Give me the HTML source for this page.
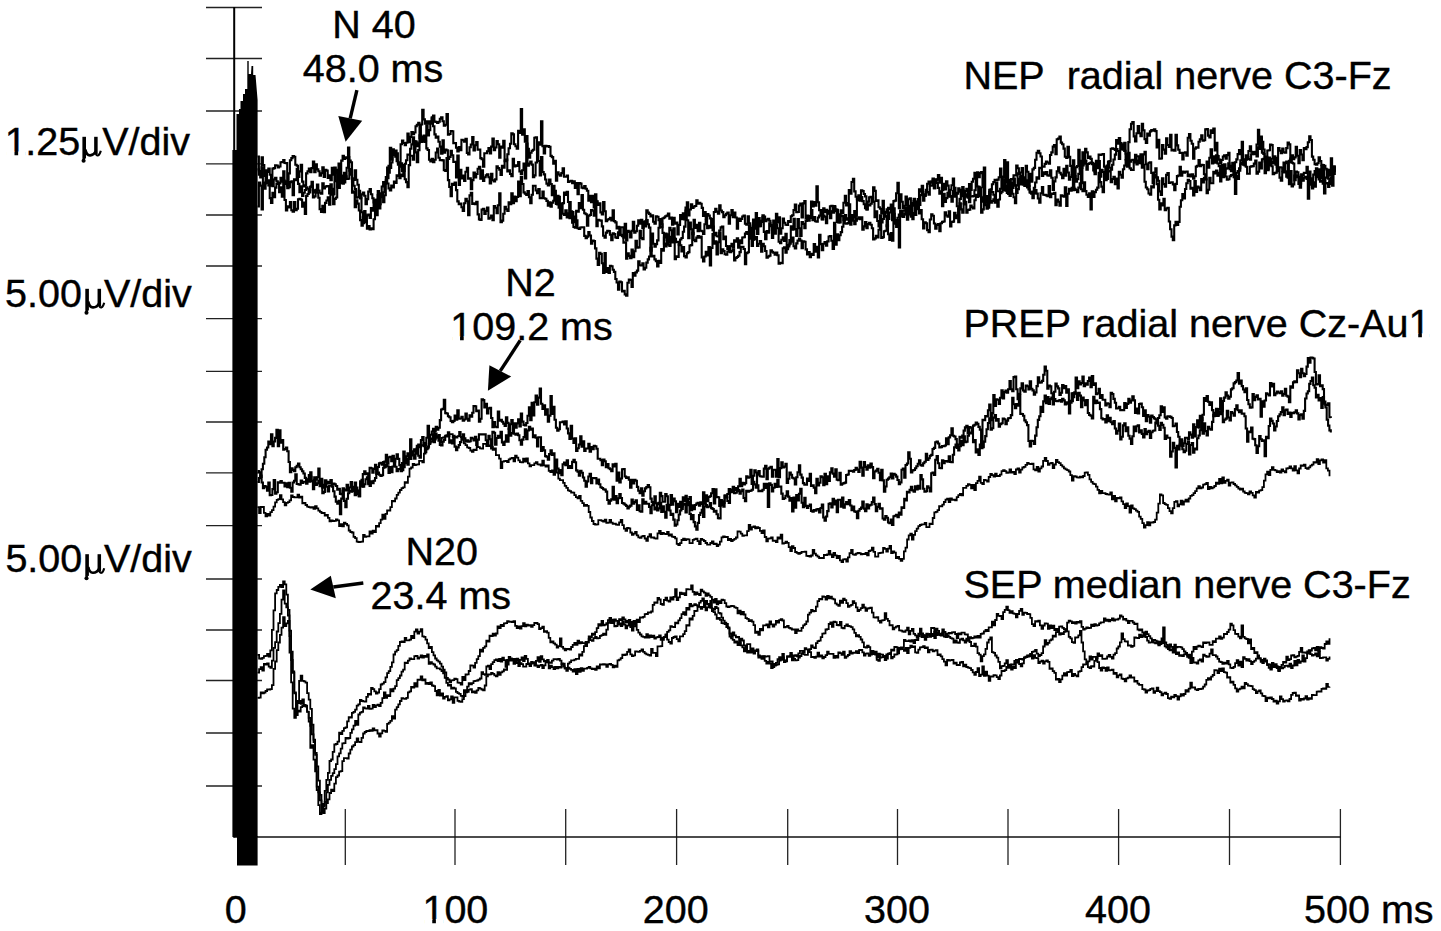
<!DOCTYPE html>
<html><head><meta charset="utf-8"><style>
html,body{margin:0;padding:0;background:#fff;overflow:hidden;}
body{width:1441px;height:931px;font-family:"Liberation Sans", sans-serif;}
svg{display:block;}
</style></head><body>
<svg width="1441" height="931" viewBox="0 0 1441 931">
<rect width="1441" height="931" fill="#fff"/>
<g stroke="#222" stroke-width="1.3" fill="none">
<line x1="206" y1="7.5" x2="262" y2="7.5"/>
<line x1="206" y1="58.5" x2="262" y2="58.5"/>
<line x1="206" y1="111.0" x2="262" y2="111.0"/>
<line x1="206" y1="163.8" x2="262" y2="163.8"/>
<line x1="206" y1="215.0" x2="262" y2="215.0"/>
<line x1="206" y1="266.0" x2="262" y2="266.0"/>
<line x1="206" y1="318.7" x2="262" y2="318.7"/>
<line x1="206" y1="371.3" x2="262" y2="371.3"/>
<line x1="206" y1="422.0" x2="262" y2="422.0"/>
<line x1="206" y1="472.8" x2="262" y2="472.8"/>
<line x1="206" y1="525.7" x2="262" y2="525.7"/>
<line x1="206" y1="579.0" x2="262" y2="579.0"/>
<line x1="206" y1="630.0" x2="262" y2="630.0"/>
<line x1="206" y1="680.5" x2="262" y2="680.5"/>
<line x1="206" y1="733.0" x2="262" y2="733.0"/>
<line x1="206" y1="786.0" x2="262" y2="786.0"/>
<line x1="345.3" y1="809" x2="345.3" y2="865"/>
<line x1="455.0" y1="809" x2="455.0" y2="865"/>
<line x1="565.7" y1="809" x2="565.7" y2="865"/>
<line x1="676.6" y1="809" x2="676.6" y2="865"/>
<line x1="787.7" y1="809" x2="787.7" y2="865"/>
<line x1="897.5" y1="809" x2="897.5" y2="865"/>
<line x1="1008.0" y1="809" x2="1008.0" y2="865"/>
<line x1="1118.6" y1="809" x2="1118.6" y2="865"/>
<line x1="1229.5" y1="809" x2="1229.5" y2="865"/>
<line x1="1340.4" y1="809" x2="1340.4" y2="865"/>
</g>
<line x1="234.2" y1="7" x2="234.2" y2="837.5" stroke="#000" stroke-width="2"/>
<line x1="233.5" y1="837" x2="1340.8" y2="837" stroke="#111" stroke-width="1.6"/>
<g fill="none" stroke="#000" stroke-width="1.6" stroke-linejoin="miter">
<path d="M257.5 169.4H258.9V171.1H260.2V173.8H261.6V157.4H262.9V165.0H264.3V176.0H265.6V170.4H267.0V171.9H268.3V168.6H269.7V174.7H271.0V177.9H272.4V168.6H273.7V168.1H275.1V165.3H276.4V165.5H277.8V167.4H279.1V166.5H280.5V162.2H281.8V162.1H283.2V160.0H284.5V163.0H285.9V163.1H287.2V185.6H288.6V173.4H289.9V160.3H291.3V158.1H292.6V156.0H294.0V156.8H295.3V164.7H296.7V165.8H298.0V176.9H299.4V171.4H300.7V164.8H302.1V181.6H303.4V186.5H304.8V185.4H306.1V173.4H307.5V171.2H308.8V168.6H310.2V172.2H311.5V168.1H312.9V161.6H314.2V172.3H315.6V164.4H316.9V169.4H318.3V171.3H319.6V175.6H321.0V173.3H322.3V167.3H323.7V177.0H325.0V169.7H326.4V170.6H327.7V178.0H329.1V175.2H330.4V180.3H331.8V167.8H333.1V174.6H334.5V172.6H335.8V169.8H337.2V181.4H338.5V163.5H339.9V179.9H341.2V160.6H342.6V155.8H343.9V159.0H345.3V157.4H346.6V158.0H348.0V157.1H349.3V160.6H350.7V162.2H352.0V178.4H353.4V180.0H354.7V170.4H356.1V179.7H357.4V184.7H358.8V197.0H360.1V197.4H361.5V194.4H362.8V192.5H364.2V195.8H365.5V204.1H366.9V199.1H368.2V191.6H369.6V189.0H370.9V194.2H372.3V198.3H373.6V202.5H375.0V201.5H376.3V199.7H377.7V191.1H379.0V204.5H380.4V194.6H381.7V186.5H383.1V182.1H384.4V183.0H385.8V177.1H387.1V167.5H388.5V172.7H389.8V147.8H391.2V159.6H392.5V149.2H393.9V152.7H395.2V156.8H396.6V153.2H397.9V162.9H399.3V162.4H400.6V144.2H402.0V140.6H403.3V143.0H404.7V145.1H406.0V142.8H407.4V133.6H408.7V142.1H410.1V136.9H411.4V132.1H412.8V134.3H414.1V132.5H415.5V126.2H416.8V124.8H418.2V122.7H419.5V138.2H420.9V124.5H422.2V109.7H423.6V119.4H424.9V123.6H426.3V121.2H427.6V123.7H429.0V121.2H430.3V123.4H431.7V118.4H433.0V115.5H434.4V121.6H435.7V122.0H437.1V123.0H438.4V121.7H439.8V118.8H441.1V117.3H442.5V121.3H443.8V125.8H445.2V124.7H446.5V114.0H447.9V134.8H449.2V134.0H450.6V131.0H451.9V131.2H453.3V143.2H454.6V143.0H456.0V147.8H457.3V151.5H458.7V147.0H460.0V150.1H461.4V139.9H462.7V140.3H464.1V141.6H465.4V138.9H466.8V152.9H468.1V154.5H469.5V147.2H470.8V144.5H472.2V137.0H473.5V150.4H474.9V145.2H476.2V142.1H477.6V149.6H478.9V149.6H480.3V158.1H481.6V159.3H483.0V166.7H484.3V153.3H485.7V153.3H487.0V151.3H488.4V148.1H489.7V153.4H491.1V146.6H492.4V138.6H493.8V150.2H495.1V147.5H496.5V141.0H497.8V144.2H499.2V157.8H500.5V146.5H501.9V147.6H503.2V140.8H504.6V161.1H505.9V160.1H507.3V154.2H508.6V148.3H510.0V143.7H511.3V133.4H512.7V134.4H514.0V144.2H515.4V146.3H516.7V148.8H518.1V130.9H519.4V132.9H520.8V109.1H522.1V134.6H523.5V129.4H524.8V141.7H526.2V136.0H527.5V148.7H528.9V157.7H530.2V152.8H531.6V150.8H532.9V149.8H534.3V137.8H535.6V137.2H537.0V157.9H538.3V142.2H539.7V144.8H541.0V121.4H542.4V146.1H543.7V153.4H545.1V145.7H546.4V146.5H547.8V146.1H549.1V146.9H550.5V155.9H551.8V157.1H553.2V163.6H554.5V160.7H555.9V180.7H557.2V172.2H558.6V174.5H559.9V175.8H561.3V173.1H562.6V168.2H564.0V176.8H565.3V176.8H566.7V175.6H568.0V182.0H569.4V181.3H570.7V180.7H572.1V183.2H573.4V181.2H574.8V188.0H576.1V183.1H577.5V194.2H578.8V183.1H580.2V183.6H581.5V187.6H582.9V188.1H584.2V186.0H585.6V188.7H586.9V190.8H588.3V200.6H589.6V195.8H591.0V202.1H592.3V195.9H593.7V207.5H595.0V200.9H596.4V201.2H597.7V205.0H599.1V203.2H600.4V212.4H601.8V214.4H603.1V202.1H604.5V211.2H605.8V221.3H607.2V219.8H608.5V219.0H609.9V217.8H611.2V220.4H612.6V210.2H613.9V221.1H615.3V222.4H616.6V228.5H618.0V226.7H619.3V235.3H620.7V227.3H622.0V227.2H623.4V237.6H624.7V223.7H626.1V240.5H627.4V230.8H628.8V231.9H630.1V237.5H631.5V230.7H632.8V221.8H634.2V232.7H635.5V231.2H636.9V225.8H638.2V220.3H639.6V223.6H640.9V219.7H642.3V228.0H643.6V221.6H645.0V226.5H646.3V210.2H647.7V212.6H649.0V213.9H650.4V216.5H651.7V215.4H653.1V221.7H654.4V223.6H655.8V216.2H657.1V216.7H658.5V220.2H659.8V226.8H661.2V227.2H662.5V218.2H663.9V217.5H665.2V216.3H666.6V215.6H667.9V213.5H669.3V218.8H670.6V217.6H672.0V224.6H673.3V217.7H674.7V223.8H676.0V222.5H677.4V234.4H678.7V224.9H680.1V215.1H681.4V219.2H682.8V213.4H684.1V219.4H685.5V210.5H686.8V202.4H688.2V215.4H689.5V209.5H690.9V204.4H692.2V208.0H693.6V206.5H694.9V206.0H696.3V200.2H697.6V203.7H699.0V202.7H700.3V203.8H701.7V207.9H703.0V215.9H704.4V212.1H705.7V218.4H707.1V214.0H708.4V215.6H709.8V218.4H711.1V219.0H712.5V230.2H713.8V212.0H715.2V208.9H716.5V211.6H717.9V213.8H719.2V205.2H720.6V210.5H721.9V212.1H723.3V217.1H724.6V215.3H726.0V213.8H727.3V212.5H728.7V223.7H730.0V215.3H731.4V210.0H732.7V217.3H734.1V212.6H735.4V217.5H736.8V228.8H738.1V218.5H739.5V221.0H740.8V218.9H742.2V216.5H743.5V215.5H744.9V223.7H746.2V224.8H747.6V216.4H748.9V223.4H750.3V227.9H751.6V236.1H753.0V219.5H754.3V227.7H755.7V213.0H757.0V234.0H758.4V218.0H759.7V226.1H761.1V222.0H762.4V217.3H763.8V216.6H765.1V221.3H766.5V219.6H767.8V218.8H769.2V220.8H770.5V226.2H771.9V237.9H773.2V220.5H774.6V233.7H775.9V213.7H777.3V222.4H778.6V217.4H780.0V233.7H781.3V228.3H782.7V218.5H784.0V222.8H785.4V224.8H786.7V225.0H788.1V221.0H789.4V222.0H790.8V216.3H792.1V215.2H793.5V210.0H794.8V204.5H796.2V212.1H797.5V212.0H798.9V205.5H800.2V203.5H801.6V217.4H802.9V203.4H804.3V201.0H805.6V218.6H807.0V216.6H808.3V220.7H809.7V216.6H811.0V201.6H812.4V206.5H813.7V202.0H815.1V205.7H816.4V186.3H817.8V202.3H819.1V210.3H820.5V210.0H821.8V219.1H823.2V208.2H824.5V212.2H825.9V209.9H827.2V212.4H828.6V213.7H829.9V218.1H831.3V211.3H832.6V211.0H834.0V206.0H835.3V209.4H836.7V209.9H838.0V222.4H839.4V214.3H840.7V210.2H842.1V213.0H843.4V202.7H844.8V195.7H846.1V205.5H847.5V203.0H848.8V190.1H850.2V193.7H851.5V182.0H852.9V178.7H854.2V191.4H855.6V196.7H856.9V199.2H858.3V200.3H859.6V198.4H861.0V197.1H862.3V201.1H863.7V204.3H865.0V208.2H866.4V209.6H867.7V204.7H869.1V205.5H870.4V203.7H871.8V197.6H873.1V201.5H874.5V217.3H875.8V211.3H877.2V221.0H878.5V226.5H879.9V221.0H881.2V222.4H882.6V219.0H883.9V211.9H885.3V216.0H886.6V226.1H888.0V207.8H889.3V209.0H890.7V204.5H892.0V210.5H893.4V201.1H894.7V200.6H896.1V193.2H897.4V182.7H898.8V208.3H900.1V194.2H901.5V201.8H902.8V207.9H904.2V205.7H905.5V196.5H906.9V205.7H908.2V199.3H909.6V198.3H910.9V215.2H912.3V203.1H913.6V201.0H915.0V214.9H916.3V209.3H917.7V201.6H919.0V189.2H920.4V191.5H921.7V191.7H923.1V200.6H924.4V196.0H925.8V192.1H927.1V183.7H928.5V181.6H929.8V185.6H931.2V185.7H932.5V178.6H933.9V188.3H935.2V180.2H936.6V179.6H937.9V175.1H939.3V182.8H940.6V177.9H942.0V190.2H943.3V183.8H944.7V189.5H946.0V181.3H947.4V185.6H948.7V196.8H950.1V189.8H951.4V185.3H952.8V178.6H954.1V196.8H955.5V192.8H956.8V193.8H958.2V188.2H959.5V191.6H960.9V196.3H962.2V187.0H963.6V192.4H964.9V194.3H966.3V196.6H967.6V196.8H969.0V202.1H970.3V189.9H971.7V181.7H973.0V178.8H974.4V172.9H975.7V179.3H977.1V172.2H978.4V177.2H979.8V173.1H981.1V172.1H982.5V187.2H983.8V199.9H985.2V202.6H986.5V196.0H987.9V204.4H989.2V191.8H990.6V191.5H991.9V192.0H993.3V194.7H994.6V197.9H996.0V182.5H997.3V191.3H998.7V191.2H1000.0V188.7H1001.4V177.1H1002.7V177.6H1004.1V160.0H1005.4V182.6H1006.8V162.2H1008.1V193.9H1009.5V188.6H1010.8V182.5H1012.2V188.0H1013.5V178.6H1014.9V185.6H1016.2V193.0H1017.6V189.1H1018.9V178.7H1020.3V177.1H1021.6V177.9H1023.0V183.7H1024.3V177.2H1025.7V165.8H1027.0V171.7H1028.4V185.6H1029.7V173.9H1031.1V181.8H1032.4V169.4H1033.8V167.9H1035.1V159.7H1036.5V152.7H1037.8V150.9H1039.2V153.3H1040.5V156.5H1041.9V166.5H1043.2V166.7H1044.6V163.9H1045.9V161.5H1047.3V162.5H1048.6V163.7H1050.0V155.0H1051.3V152.4H1052.7V146.6H1054.0V145.1H1055.4V154.2H1056.7V139.3H1058.1V138.6H1059.4V136.6H1060.8V142.6H1062.1V144.2H1063.5V148.6H1064.8V156.7H1066.2V158.0H1067.5V146.7H1068.9V156.9H1070.2V165.9H1071.6V176.2H1072.9V160.3H1074.3V178.8H1075.6V167.3H1077.0V166.0H1078.3V149.8H1079.7V168.8H1081.0V168.0H1082.4V152.4H1083.7V163.6H1085.1V148.7H1086.4V152.4H1087.8V157.9H1089.1V156.6H1090.5V158.9H1091.8V162.8H1093.2V163.7H1094.5V171.8H1095.9V167.7H1097.2V161.6H1098.6V154.6H1099.9V155.0H1101.3V154.5H1102.6V154.1H1104.0V166.6H1105.3V176.4H1106.7V165.6H1108.0V162.5H1109.4V161.1H1110.7V148.8H1112.1V148.2H1113.4V149.0H1114.8V150.0H1116.1V140.1H1117.5V143.6H1118.8V138.0H1120.2V143.1H1121.5V147.2H1122.9V149.4H1124.2V142.7H1125.6V153.7H1126.9V166.7H1128.3V142.1H1129.6V129.3H1131.0V123.7H1132.3V122.0H1133.7V136.4H1135.0V141.4H1136.4V133.3H1137.7V126.1H1139.1V133.2H1140.4V136.1H1141.8V123.9H1143.1V130.2H1144.5V139.1H1145.8V142.9H1147.2V133.6H1148.5V135.8H1149.9V131.4H1151.2V130.1H1152.6V130.7H1153.9V129.2H1155.3V131.1H1156.6V147.5H1158.0V139.7H1159.3V158.7H1160.7V158.5H1162.0V145.0H1163.4V149.6H1164.7V153.8H1166.1V138.3H1167.4V145.0H1168.8V146.9H1170.1V134.7H1171.5V150.5H1172.8V149.7H1174.2V150.6H1175.5V134.8H1176.9V145.4H1178.2V149.8H1179.6V153.0H1180.9V152.7H1182.3V159.4H1183.6V152.7H1185.0V152.2H1186.3V155.7H1187.7V137.8H1189.0V134.0H1190.4V140.8H1191.7V143.8H1193.1V158.7H1194.4V148.6H1195.8V147.4H1197.1V147.7H1198.5V141.7H1199.8V139.3H1201.2V135.3H1202.5V140.8H1203.9V140.2H1205.2V129.4H1206.6V129.0H1207.9V135.6H1209.3V137.5H1210.6V130.2H1212.0V132.9H1213.3V128.5H1214.7V150.4H1216.0V142.8H1217.4V156.0H1218.7V159.6H1220.1V163.0H1221.4V160.0H1222.8V156.5H1224.1V155.3H1225.5V158.8H1226.8V155.1H1228.2V152.7H1229.5V169.3H1230.9V171.1H1232.2V166.7H1233.6V169.2H1234.9V162.3H1236.3V159.4H1237.6V154.1H1239.0V150.1H1240.3V154.3H1241.7V141.7H1243.0V163.1H1244.4V165.5H1245.7V159.6H1247.1V157.1H1248.4V159.0H1249.8V159.7H1251.1V154.2H1252.5V153.1H1253.8V152.1H1255.2V151.8H1256.5V144.5H1257.9V129.7H1259.2V149.0H1260.6V137.7H1261.9V152.6H1263.3V154.0H1264.6V158.8H1266.0V156.7H1267.3V150.5H1268.7V150.2H1270.0V144.5H1271.4V145.1H1272.7V158.7H1274.1V159.4H1275.4V157.9H1276.8V169.9H1278.1V148.1H1279.5V150.8H1280.8V153.1H1282.2V148.5H1283.5V152.2H1284.9V152.7H1286.2V148.1H1287.6V142.6H1288.9V144.4H1290.3V162.1H1291.6V155.4H1293.0V159.3H1294.3V157.4H1295.7V146.8H1297.0V155.7H1298.4V163.2H1299.7V150.1H1301.1V154.5H1302.4V160.3H1303.8V148.0H1305.1V149.1H1306.5V147.1H1307.8V142.2H1309.2V136.2H1310.5V140.0H1311.9V156.6H1313.2V159.8H1314.6V164.1H1315.9V164.7H1317.3V163.2H1318.6V157.2H1320.0V161.1H1321.3V164.7H1322.7V179.7H1324.0V165.7H1325.4V168.8H1326.7V169.9H1328.1V178.7H1329.4V183.9H1330.8V178.0H1332.1V185.8H1333.5V168.0H1334.8V175.1" stroke-width="2.1"/>
<path d="M257.5 156.5H258.9V174.8H260.2V177.5H261.6V167.3H262.9V182.9H264.3V183.7H265.6V181.9H267.0V183.0H268.3V185.5H269.7V185.7H271.0V179.4H272.4V186.1H273.7V179.5H275.1V177.7H276.4V181.4H277.8V182.9H279.1V183.4H280.5V177.9H281.8V181.7H283.2V171.4H284.5V181.3H285.9V184.0H287.2V188.2H288.6V187.3H289.9V182.1H291.3V181.4H292.6V195.3H294.0V179.2H295.3V180.3H296.7V168.9H298.0V183.9H299.4V192.2H300.7V186.4H302.1V195.9H303.4V192.8H304.8V190.0H306.1V187.3H307.5V188.7H308.8V192.4H310.2V186.8H311.5V181.9H312.9V192.5H314.2V190.3H315.6V190.4H316.9V184.6H318.3V190.6H319.6V192.7H321.0V193.7H322.3V183.3H323.7V188.5H325.0V186.7H326.4V186.0H327.7V186.1H329.1V193.4H330.4V184.3H331.8V188.8H333.1V204.1H334.5V198.9H335.8V197.5H337.2V182.7H338.5V187.9H339.9V181.7H341.2V182.3H342.6V177.2H343.9V182.5H345.3V177.3H346.6V167.7H348.0V147.6H349.3V170.6H350.7V174.8H352.0V181.8H353.4V185.8H354.7V189.0H356.1V197.6H357.4V197.3H358.8V190.9H360.1V198.5H361.5V212.2H362.8V223.2H364.2V211.0H365.5V222.2H366.9V215.4H368.2V214.5H369.6V218.0H370.9V208.1H372.3V210.8H373.6V200.4H375.0V205.2H376.3V204.5H377.7V195.0H379.0V204.0H380.4V195.3H381.7V197.3H383.1V192.4H384.4V183.7H385.8V182.4H387.1V178.2H388.5V165.8H389.8V167.9H391.2V162.5H392.5V154.9H393.9V151.1H395.2V150.6H396.6V161.1H397.9V164.8H399.3V178.2H400.6V174.5H402.0V176.1H403.3V170.9H404.7V163.7H406.0V160.2H407.4V154.6H408.7V154.7H410.1V148.7H411.4V144.4H412.8V137.2H414.1V141.3H415.5V141.6H416.8V146.1H418.2V143.2H419.5V135.3H420.9V141.9H422.2V137.4H423.6V135.5H424.9V140.2H426.3V125.4H427.6V135.5H429.0V130.1H430.3V123.4H431.7V117.3H433.0V126.2H434.4V134.4H435.7V137.6H437.1V136.5H438.4V141.8H439.8V146.6H441.1V153.6H442.5V140.2H443.8V152.7H445.2V149.6H446.5V150.4H447.9V159.0H449.2V156.9H450.6V150.7H451.9V155.3H453.3V161.9H454.6V161.9H456.0V177.5H457.3V155.6H458.7V184.9H460.0V169.7H461.4V178.5H462.7V175.5H464.1V181.0H465.4V171.7H466.8V167.7H468.1V178.8H469.5V178.3H470.8V189.3H472.2V180.1H473.5V172.6H474.9V177.4H476.2V174.0H477.6V168.7H478.9V166.9H480.3V178.6H481.6V170.4H483.0V181.0H484.3V177.3H485.7V175.4H487.0V174.2H488.4V177.2H489.7V183.4H491.1V173.9H492.4V180.3H493.8V181.5H495.1V179.4H496.5V166.4H497.8V168.0H499.2V169.7H500.5V174.9H501.9V165.7H503.2V167.8H504.6V160.5H505.9V159.6H507.3V171.4H508.6V170.4H510.0V174.0H511.3V176.3H512.7V158.9H514.0V166.5H515.4V165.4H516.7V165.9H518.1V162.0H519.4V171.4H520.8V174.0H522.1V170.3H523.5V163.6H524.8V178.4H526.2V143.5H527.5V165.6H528.9V163.5H530.2V161.5H531.6V164.6H532.9V177.2H534.3V175.4H535.6V162.5H537.0V160.1H538.3V161.0H539.7V175.5H541.0V157.0H542.4V172.0H543.7V174.4H545.1V179.5H546.4V183.6H547.8V185.4H549.1V179.5H550.5V184.0H551.8V195.2H553.2V185.8H554.5V199.5H555.9V204.0H557.2V204.5H558.6V196.7H559.9V206.9H561.3V203.8H562.6V203.1H564.0V192.5H565.3V195.0H566.7V191.7H568.0V202.0H569.4V218.3H570.7V212.6H572.1V222.8H573.4V227.0H574.8V227.8H576.1V210.8H577.5V211.8H578.8V203.0H580.2V208.3H581.5V195.0H582.9V209.8H584.2V213.3H585.6V214.2H586.9V225.6H588.3V215.7H589.6V214.9H591.0V210.0H592.3V210.6H593.7V215.7H595.0V194.3H596.4V226.2H597.7V219.8H599.1V220.2H600.4V220.6H601.8V226.4H603.1V235.7H604.5V237.7H605.8V232.6H607.2V230.7H608.5V231.1H609.9V234.7H611.2V240.1H612.6V233.3H613.9V234.1H615.3V237.4H616.6V238.0H618.0V232.3H619.3V234.9H620.7V234.9H622.0V236.2H623.4V242.7H624.7V242.4H626.1V258.8H627.4V253.3H628.8V255.9H630.1V258.3H631.5V249.6H632.8V257.3H634.2V251.2H635.5V240.8H636.9V247.7H638.2V247.4H639.6V230.8H640.9V238.0H642.3V239.1H643.6V224.1H645.0V221.6H646.3V220.0H647.7V224.2H649.0V227.6H650.4V250.6H651.7V233.5H653.1V243.8H654.4V246.6H655.8V244.1H657.1V240.4H658.5V227.8H659.8V219.0H661.2V224.3H662.5V232.9H663.9V243.6H665.2V246.5H666.6V234.2H667.9V244.7H669.3V245.9H670.6V236.9H672.0V238.6H673.3V228.4H674.7V238.9H676.0V242.1H677.4V241.9H678.7V244.6H680.1V239.5H681.4V238.0H682.8V231.8H684.1V226.6H685.5V207.6H686.8V220.2H688.2V238.3H689.5V222.6H690.9V229.3H692.2V234.1H693.6V219.7H694.9V227.9H696.3V224.8H697.6V231.3H699.0V222.9H700.3V230.8H701.7V231.3H703.0V234.0H704.4V224.2H705.7V220.0H707.1V228.3H708.4V225.7H709.8V227.6H711.1V219.7H712.5V226.6H713.8V234.9H715.2V232.7H716.5V236.2H717.9V236.4H719.2V230.6H720.6V227.4H721.9V226.5H723.3V239.2H724.6V236.6H726.0V246.0H727.3V249.2H728.7V247.1H730.0V246.3H731.4V243.8H732.7V247.8H734.1V240.4H735.4V241.7H736.8V238.3H738.1V247.8H739.5V240.2H740.8V243.2H742.2V237.5H743.5V237.2H744.9V233.6H746.2V232.0H747.6V233.9H748.9V225.6H750.3V237.3H751.6V230.3H753.0V239.6H754.3V228.6H755.7V220.3H757.0V220.2H758.4V226.3H759.7V223.6H761.1V220.9H762.4V215.4H763.8V232.0H765.1V239.3H766.5V231.0H767.8V232.8H769.2V223.3H770.5V225.1H771.9V229.7H773.2V232.8H774.6V223.8H775.9V224.4H777.3V228.2H778.6V241.7H780.0V243.3H781.3V239.7H782.7V237.4H784.0V240.9H785.4V233.8H786.7V248.0H788.1V245.0H789.4V240.1H790.8V226.2H792.1V229.7H793.5V218.7H794.8V229.1H796.2V235.9H797.5V219.0H798.9V228.3H800.2V236.0H801.6V222.0H802.9V223.9H804.3V228.2H805.6V221.0H807.0V215.5H808.3V216.0H809.7V217.9H811.0V210.1H812.4V220.3H813.7V217.0H815.1V221.3H816.4V221.8H817.8V217.5H819.1V215.6H820.5V210.3H821.8V219.4H823.2V215.5H824.5V216.7H825.9V223.1H827.2V210.7H828.6V213.1H829.9V206.2H831.3V205.7H832.6V212.6H834.0V207.2H835.3V211.1H836.7V222.0H838.0V218.3H839.4V222.5H840.7V215.6H842.1V216.3H843.4V220.1H844.8V215.1H846.1V219.8H847.5V218.2H848.8V204.2H850.2V220.4H851.5V215.1H852.9V220.8H854.2V224.1H855.6V215.6H856.9V199.1H858.3V195.3H859.6V200.6H861.0V190.2H862.3V191.1H863.7V194.0H865.0V196.4H866.4V209.0H867.7V201.6H869.1V197.4H870.4V196.7H871.8V201.8H873.1V187.3H874.5V190.9H875.8V201.0H877.2V200.3H878.5V207.2H879.9V208.7H881.2V213.5H882.6V200.7H883.9V216.7H885.3V212.6H886.6V209.4H888.0V218.9H889.3V212.5H890.7V208.9H892.0V220.3H893.4V213.8H894.7V223.7H896.1V220.5H897.4V217.7H898.8V214.5H900.1V214.0H901.5V216.4H902.8V217.0H904.2V214.1H905.5V207.6H906.9V214.2H908.2V205.7H909.6V212.6H910.9V216.0H912.3V219.1H913.6V213.1H915.0V204.7H916.3V203.6H917.7V199.0H919.0V205.0H920.4V195.1H921.7V185.7H923.1V194.3H924.4V194.9H925.8V189.8H927.1V192.1H928.5V194.8H929.8V182.7H931.2V181.5H932.5V180.6H933.9V188.2H935.2V179.2H936.6V182.9H937.9V187.9H939.3V193.8H940.6V191.2H942.0V206.1H943.3V193.8H944.7V201.9H946.0V198.1H947.4V192.9H948.7V196.0H950.1V196.1H951.4V201.7H952.8V191.0H954.1V187.8H955.5V194.2H956.8V206.3H958.2V222.1H959.5V198.9H960.9V189.9H962.2V189.8H963.6V203.5H964.9V191.1H966.3V188.7H967.6V197.8H969.0V184.0H970.3V196.5H971.7V196.4H973.0V196.0H974.4V190.2H975.7V180.7H977.1V186.5H978.4V194.9H979.8V187.7H981.1V201.7H982.5V197.3H983.8V198.3H985.2V204.3H986.5V208.6H987.9V199.7H989.2V194.3H990.6V189.4H991.9V184.2H993.3V182.1H994.6V179.9H996.0V180.3H997.3V179.6H998.7V177.3H1000.0V168.6H1001.4V176.6H1002.7V190.0H1004.1V186.1H1005.4V190.7H1006.8V185.3H1008.1V180.1H1009.5V191.0H1010.8V179.0H1012.2V179.5H1013.5V175.4H1014.9V175.5H1016.2V165.5H1017.6V168.2H1018.9V174.3H1020.3V172.5H1021.6V168.1H1023.0V179.8H1024.3V179.0H1025.7V184.1H1027.0V186.8H1028.4V186.3H1029.7V192.6H1031.1V193.7H1032.4V198.1H1033.8V187.7H1035.1V182.5H1036.5V177.2H1037.8V178.6H1039.2V167.7H1040.5V168.1H1041.9V176.0H1043.2V172.2H1044.6V174.3H1045.9V172.1H1047.3V175.4H1048.6V175.6H1050.0V170.3H1051.3V177.8H1052.7V190.0H1054.0V181.4H1055.4V177.4H1056.7V171.3H1058.1V167.4H1059.4V172.8H1060.8V174.5H1062.1V178.2H1063.5V168.8H1064.8V175.6H1066.2V165.7H1067.5V172.5H1068.9V179.8H1070.2V177.0H1071.6V175.2H1072.9V190.2H1074.3V176.0H1075.6V181.8H1077.0V179.1H1078.3V173.9H1079.7V160.9H1081.0V183.1H1082.4V165.4H1083.7V163.0H1085.1V160.6H1086.4V169.6H1087.8V164.0H1089.1V163.2H1090.5V162.5H1091.8V164.1H1093.2V170.4H1094.5V174.1H1095.9V160.9H1097.2V168.3H1098.6V161.0H1099.9V182.1H1101.3V186.6H1102.6V192.1H1104.0V172.4H1105.3V179.0H1106.7V169.6H1108.0V161.6H1109.4V167.7H1110.7V169.7H1112.1V164.8H1113.4V159.5H1114.8V154.6H1116.1V149.0H1117.5V151.0H1118.8V158.9H1120.2V144.7H1121.5V149.5H1122.9V144.2H1124.2V150.9H1125.6V159.4H1126.9V158.2H1128.3V152.8H1129.6V161.8H1131.0V160.3H1132.3V159.7H1133.7V162.1H1135.0V159.6H1136.4V156.3H1137.7V156.2H1139.1V159.8H1140.4V154.2H1141.8V163.8H1143.1V154.4H1144.5V151.7H1145.8V164.3H1147.2V169.1H1148.5V162.7H1149.9V162.2H1151.2V172.9H1152.6V183.3H1153.9V172.5H1155.3V168.4H1156.6V177.3H1158.0V180.8H1159.3V191.4H1160.7V195.0H1162.0V178.3H1163.4V184.1H1164.7V186.8H1166.1V174.9H1167.4V173.1H1168.8V183.0H1170.1V182.5H1171.5V182.2H1172.8V184.4H1174.2V190.1H1175.5V183.9H1176.9V176.1H1178.2V175.5H1179.6V166.9H1180.9V175.6H1182.3V171.6H1183.6V172.6H1185.0V171.8H1186.3V171.6H1187.7V176.2H1189.0V174.5H1190.4V176.4H1191.7V174.4H1193.1V178.6H1194.4V176.2H1195.8V166.6H1197.1V165.7H1198.5V160.1H1199.8V166.2H1201.2V164.8H1202.5V165.0H1203.9V174.3H1205.2V179.5H1206.6V161.5H1207.9V167.7H1209.3V157.8H1210.6V149.3H1212.0V163.4H1213.3V156.4H1214.7V162.6H1216.0V155.2H1217.4V163.5H1218.7V166.1H1220.1V174.4H1221.4V172.8H1222.8V173.9H1224.1V172.9H1225.5V168.8H1226.8V168.2H1228.2V163.3H1229.5V165.8H1230.9V167.4H1232.2V162.9H1233.6V177.2H1234.9V194.0H1236.3V175.9H1237.6V179.0H1239.0V168.2H1240.3V160.2H1241.7V153.5H1243.0V161.3H1244.4V159.4H1245.7V155.3H1247.1V158.6H1248.4V151.0H1249.8V146.3H1251.1V151.8H1252.5V153.5H1253.8V154.1H1255.2V152.8H1256.5V156.4H1257.9V147.3H1259.2V147.2H1260.6V136.6H1261.9V141.8H1263.3V149.5H1264.6V161.4H1266.0V156.7H1267.3V169.0H1268.7V165.1H1270.0V158.9H1271.4V166.2H1272.7V174.1H1274.1V173.1H1275.4V172.6H1276.8V171.3H1278.1V168.9H1279.5V167.4H1280.8V167.5H1282.2V171.2H1283.5V162.6H1284.9V171.4H1286.2V176.8H1287.6V177.6H1288.9V160.7H1290.3V158.5H1291.6V162.8H1293.0V163.5H1294.3V180.1H1295.7V171.6H1297.0V172.4H1298.4V183.9H1299.7V183.6H1301.1V174.4H1302.4V180.6H1303.8V177.7H1305.1V176.8H1306.5V178.9H1307.8V198.8H1309.2V171.5H1310.5V178.3H1311.9V186.8H1313.2V182.4H1314.6V186.8H1315.9V168.2H1317.3V176.3H1318.6V169.2H1320.0V178.1H1321.3V166.0H1322.7V165.1H1324.0V193.4H1325.4V177.6H1326.7V170.5H1328.1V169.7H1329.4V175.8H1330.8V158.2H1332.1V167.0H1333.5V171.2H1334.8V166.1" stroke-width="2.1"/>
<path d="M257.5 206.5H258.9V182.6H260.2V185.6H261.6V209.5H262.9V183.7H264.3V188.6H265.6V174.0H267.0V182.3H268.3V180.4H269.7V198.1H271.0V202.9H272.4V192.8H273.7V197.3H275.1V187.6H276.4V184.0H277.8V182.8H279.1V192.3H280.5V187.3H281.8V196.7H283.2V180.4H284.5V200.0H285.9V210.5H287.2V206.2H288.6V207.5H289.9V202.1H291.3V210.3H292.6V211.6H294.0V202.0H295.3V210.3H296.7V208.7H298.0V199.3H299.4V198.9H300.7V199.6H302.1V206.7H303.4V202.6H304.8V213.9H306.1V195.9H307.5V194.0H308.8V190.2H310.2V186.8H311.5V185.8H312.9V197.5H314.2V196.4H315.6V189.7H316.9V192.6H318.3V197.7H319.6V209.1H321.0V212.0H322.3V205.8H323.7V212.3H325.0V202.9H326.4V200.5H327.7V197.4H329.1V204.7H330.4V194.7H331.8V190.4H333.1V194.4H334.5V167.5H335.8V181.3H337.2V187.3H338.5V181.5H339.9V183.3H341.2V175.5H342.6V183.8H343.9V172.9H345.3V176.4H346.6V179.0H348.0V178.7H349.3V169.1H350.7V170.7H352.0V192.6H353.4V191.4H354.7V207.2H356.1V200.2H357.4V203.6H358.8V210.5H360.1V220.1H361.5V225.6H362.8V217.4H364.2V214.4H365.5V220.8H366.9V228.8H368.2V226.0H369.6V229.4H370.9V228.3H372.3V229.1H373.6V219.2H375.0V199.7H376.3V215.2H377.7V204.4H379.0V208.4H380.4V193.3H381.7V196.2H383.1V202.1H384.4V195.2H385.8V180.4H387.1V183.5H388.5V188.4H389.8V190.4H391.2V185.6H392.5V187.4H393.9V181.6H395.2V182.9H396.6V175.3H397.9V176.0H399.3V166.8H400.6V163.4H402.0V171.2H403.3V165.1H404.7V179.3H406.0V182.1H407.4V187.1H408.7V165.1H410.1V155.8H411.4V155.7H412.8V159.8H414.1V141.3H415.5V152.4H416.8V162.3H418.2V150.1H419.5V141.9H420.9V136.5H422.2V141.8H423.6V137.9H424.9V141.9H426.3V148.4H427.6V150.0H429.0V159.8H430.3V161.5H431.7V158.7H433.0V162.1H434.4V159.7H435.7V152.5H437.1V148.6H438.4V157.8H439.8V160.3H441.1V160.0H442.5V160.4H443.8V170.1H445.2V170.9H446.5V158.0H447.9V180.1H449.2V187.0H450.6V196.3H451.9V183.8H453.3V185.0H454.6V182.5H456.0V190.1H457.3V201.4H458.7V204.3H460.0V203.6H461.4V207.3H462.7V210.9H464.1V203.3H465.4V198.9H466.8V201.2H468.1V215.2H469.5V195.4H470.8V192.8H472.2V203.9H473.5V203.3H474.9V204.2H476.2V201.8H477.6V214.4H478.9V219.4H480.3V220.0H481.6V209.6H483.0V208.7H484.3V214.0H485.7V210.9H487.0V207.6H488.4V218.6H489.7V217.8H491.1V215.5H492.4V220.2H493.8V206.0H495.1V207.8H496.5V213.3H497.8V205.3H499.2V193.4H500.5V222.3H501.9V220.6H503.2V213.7H504.6V206.9H505.9V209.3H507.3V210.9H508.6V202.2H510.0V204.1H511.3V193.3H512.7V203.2H514.0V196.5H515.4V201.2H516.7V197.0H518.1V181.5H519.4V196.1H520.8V176.7H522.1V184.0H523.5V192.4H524.8V193.7H526.2V194.9H527.5V191.1H528.9V197.3H530.2V203.3H531.6V194.7H532.9V185.8H534.3V185.8H535.6V190.5H537.0V193.1H538.3V189.0H539.7V198.1H541.0V198.3H542.4V191.6H543.7V198.2H545.1V198.8H546.4V200.9H547.8V205.7H549.1V202.4H550.5V206.6H551.8V202.7H553.2V200.7H554.5V190.8H555.9V203.1H557.2V195.8H558.6V207.6H559.9V218.5H561.3V203.9H562.6V213.8H564.0V214.9H565.3V210.2H566.7V217.5H568.0V213.3H569.4V202.0H570.7V211.4H572.1V212.0H573.4V222.1H574.8V216.6H576.1V220.2H577.5V228.3H578.8V228.9H580.2V227.5H581.5V227.2H582.9V227.2H584.2V235.9H585.6V238.2H586.9V236.6H588.3V232.0H589.6V235.5H591.0V243.6H592.3V240.5H593.7V241.1H595.0V248.4H596.4V258.6H597.7V265.0H599.1V252.8H600.4V253.9H601.8V263.2H603.1V273.0H604.5V253.0H605.8V271.9H607.2V268.1H608.5V273.0H609.9V265.8H611.2V266.3H612.6V269.7H613.9V271.9H615.3V279.0H616.6V282.5H618.0V289.8H619.3V281.6H620.7V282.3H622.0V291.5H623.4V290.9H624.7V294.4H626.1V295.8H627.4V282.7H628.8V279.5H630.1V279.9H631.5V287.0H632.8V273.0H634.2V275.8H635.5V272.4H636.9V270.6H638.2V261.4H639.6V265.2H640.9V265.4H642.3V263.3H643.6V269.4H645.0V267.7H646.3V262.6H647.7V259.4H649.0V256.5H650.4V247.9H651.7V256.5H653.1V255.9H654.4V259.4H655.8V261.1H657.1V266.5H658.5V260.8H659.8V262.9H661.2V249.1H662.5V250.6H663.9V237.5H665.2V233.6H666.6V240.2H667.9V242.7H669.3V227.7H670.6V230.3H672.0V242.5H673.3V238.4H674.7V259.3H676.0V256.4H677.4V257.0H678.7V244.7H680.1V245.3H681.4V251.5H682.8V247.1H684.1V256.1H685.5V257.4H686.8V253.3H688.2V252.1H689.5V245.5H690.9V245.1H692.2V232.9H693.6V239.9H694.9V241.2H696.3V237.6H697.6V236.0H699.0V237.8H700.3V236.6H701.7V257.4H703.0V261.5H704.4V256.5H705.7V251.8H707.1V255.5H708.4V247.1H709.8V265.5H711.1V247.9H712.5V234.1H713.8V243.8H715.2V241.4H716.5V254.4H717.9V242.2H719.2V233.0H720.6V253.2H721.9V249.3H723.3V251.1H724.6V254.3H726.0V254.7H727.3V251.8H728.7V246.4H730.0V252.3H731.4V250.9H732.7V249.6H734.1V260.4H735.4V257.9H736.8V257.0H738.1V255.8H739.5V252.1H740.8V246.9H742.2V246.8H743.5V249.0H744.9V264.2H746.2V253.1H747.6V252.3H748.9V235.9H750.3V238.6H751.6V245.9H753.0V239.5H754.3V239.0H755.7V237.1H757.0V245.9H758.4V243.8H759.7V241.1H761.1V251.7H762.4V243.8H763.8V246.3H765.1V251.0H766.5V257.8H767.8V256.5H769.2V255.8H770.5V250.2H771.9V251.8H773.2V252.8H774.6V254.8H775.9V252.6H777.3V255.3H778.6V263.6H780.0V262.9H781.3V263.1H782.7V248.3H784.0V247.2H785.4V252.7H786.7V249.1H788.1V246.4H789.4V243.6H790.8V241.7H792.1V237.5H793.5V246.2H794.8V248.5H796.2V243.4H797.5V240.6H798.9V238.5H800.2V240.6H801.6V248.2H802.9V241.4H804.3V241.7H805.6V249.4H807.0V254.4H808.3V252.0H809.7V257.1H811.0V253.8H812.4V255.0H813.7V244.0H815.1V251.6H816.4V246.8H817.8V257.4H819.1V234.9H820.5V244.1H821.8V250.2H823.2V243.7H824.5V242.0H825.9V245.8H827.2V241.4H828.6V236.5H829.9V236.1H831.3V240.7H832.6V248.9H834.0V222.8H835.3V244.6H836.7V234.3H838.0V240.2H839.4V235.3H840.7V232.1H842.1V226.7H843.4V216.0H844.8V223.5H846.1V223.6H847.5V223.1H848.8V218.4H850.2V224.7H851.5V219.1H852.9V217.5H854.2V211.1H855.6V220.7H856.9V218.6H858.3V217.3H859.6V219.2H861.0V217.3H862.3V229.8H863.7V226.4H865.0V222.1H866.4V228.1H867.7V224.0H869.1V222.8H870.4V224.7H871.8V228.3H873.1V239.5H874.5V238.4H875.8V235.9H877.2V237.5H878.5V229.8H879.9V215.2H881.2V237.9H882.6V237.1H883.9V231.2H885.3V230.8H886.6V225.4H888.0V234.3H889.3V239.9H890.7V233.0H892.0V240.6H893.4V208.2H894.7V220.1H896.1V227.0H897.4V220.1H898.8V247.5H900.1V210.5H901.5V214.9H902.8V210.5H904.2V210.4H905.5V214.5H906.9V219.8H908.2V214.5H909.6V208.1H910.9V216.6H912.3V205.7H913.6V198.9H915.0V208.3H916.3V201.8H917.7V201.0H919.0V213.5H920.4V210.1H921.7V219.3H923.1V228.5H924.4V222.3H925.8V223.2H927.1V230.1H928.5V232.2H929.8V219.5H931.2V214.3H932.5V215.7H933.9V223.5H935.2V228.6H936.6V224.9H937.9V224.0H939.3V231.1H940.6V223.2H942.0V221.9H943.3V221.5H944.7V212.2H946.0V215.5H947.4V216.6H948.7V211.3H950.1V226.5H951.4V221.9H952.8V221.6H954.1V212.9H955.5V218.2H956.8V215.4H958.2V209.0H959.5V203.2H960.9V209.4H962.2V212.8H963.6V204.4H964.9V201.7H966.3V212.6H967.6V209.9H969.0V209.6H970.3V205.5H971.7V207.2H973.0V208.4H974.4V200.3H975.7V194.8H977.1V196.9H978.4V186.8H979.8V195.9H981.1V212.8H982.5V209.4H983.8V167.6H985.2V205.1H986.5V205.3H987.9V207.6H989.2V189.7H990.6V202.8H991.9V201.0H993.3V199.4H994.6V202.8H996.0V200.1H997.3V206.6H998.7V199.5H1000.0V193.1H1001.4V191.8H1002.7V186.1H1004.1V179.9H1005.4V190.2H1006.8V193.0H1008.1V187.9H1009.5V195.9H1010.8V183.7H1012.2V193.8H1013.5V197.3H1014.9V203.1H1016.2V185.4H1017.6V173.3H1018.9V173.7H1020.3V184.5H1021.6V175.8H1023.0V184.7H1024.3V185.9H1025.7V180.3H1027.0V187.4H1028.4V189.5H1029.7V191.8H1031.1V191.9H1032.4V191.6H1033.8V193.4H1035.1V190.1H1036.5V193.6H1037.8V198.5H1039.2V202.6H1040.5V193.3H1041.9V187.0H1043.2V194.8H1044.6V194.9H1045.9V195.4H1047.3V196.2H1048.6V186.0H1050.0V197.3H1051.3V193.5H1052.7V194.0H1054.0V192.9H1055.4V205.3H1056.7V199.6H1058.1V201.8H1059.4V205.6H1060.8V195.4H1062.1V195.9H1063.5V196.6H1064.8V187.2H1066.2V205.9H1067.5V193.7H1068.9V188.9H1070.2V190.8H1071.6V187.9H1072.9V187.6H1074.3V188.7H1075.6V190.0H1077.0V192.3H1078.3V187.6H1079.7V183.2H1081.0V189.2H1082.4V191.3H1083.7V182.4H1085.1V191.1H1086.4V194.8H1087.8V197.0H1089.1V193.4H1090.5V209.4H1091.8V191.2H1093.2V196.9H1094.5V192.1H1095.9V189.8H1097.2V187.6H1098.6V172.9H1099.9V176.8H1101.3V169.7H1102.6V171.9H1104.0V175.7H1105.3V180.1H1106.7V179.0H1108.0V171.4H1109.4V170.8H1110.7V182.3H1112.1V179.0H1113.4V176.8H1114.8V184.1H1116.1V178.5H1117.5V188.4H1118.8V171.8H1120.2V174.8H1121.5V177.6H1122.9V169.2H1124.2V165.5H1125.6V160.0H1126.9V166.0H1128.3V163.0H1129.6V168.4H1131.0V169.9H1132.3V169.9H1133.7V162.5H1135.0V154.9H1136.4V164.4H1137.7V160.6H1139.1V163.2H1140.4V157.7H1141.8V167.7H1143.1V164.9H1144.5V181.7H1145.8V187.5H1147.2V189.3H1148.5V193.5H1149.9V194.7H1151.2V186.3H1152.6V187.5H1153.9V175.0H1155.3V177.4H1156.6V184.1H1158.0V199.7H1159.3V209.5H1160.7V203.2H1162.0V205.5H1163.4V198.8H1164.7V210.3H1166.1V208.5H1167.4V207.9H1168.8V221.5H1170.1V229.3H1171.5V236.6H1172.8V240.2H1174.2V225.4H1175.5V221.7H1176.9V224.9H1178.2V221.9H1179.6V206.7H1180.9V200.2H1182.3V194.1H1183.6V198.4H1185.0V189.0H1186.3V183.2H1187.7V179.7H1189.0V181.0H1190.4V188.8H1191.7V187.7H1193.1V195.4H1194.4V181.0H1195.8V191.9H1197.1V186.5H1198.5V187.6H1199.8V190.2H1201.2V179.1H1202.5V182.5H1203.9V177.7H1205.2V179.2H1206.6V193.1H1207.9V189.7H1209.3V177.9H1210.6V183.3H1212.0V183.3H1213.3V171.8H1214.7V173.5H1216.0V170.6H1217.4V175.7H1218.7V172.7H1220.1V181.5H1221.4V165.0H1222.8V177.3H1224.1V164.3H1225.5V176.5H1226.8V179.6H1228.2V179.2H1229.5V176.2H1230.9V175.1H1232.2V174.8H1233.6V169.3H1234.9V177.9H1236.3V172.7H1237.6V171.0H1239.0V170.7H1240.3V164.2H1241.7V162.5H1243.0V164.7H1244.4V162.0H1245.7V166.7H1247.1V173.8H1248.4V173.7H1249.8V166.8H1251.1V166.4H1252.5V166.1H1253.8V163.6H1255.2V160.5H1256.5V173.7H1257.9V171.7H1259.2V162.6H1260.6V168.5H1261.9V159.2H1263.3V158.9H1264.6V173.2H1266.0V161.0H1267.3V170.1H1268.7V157.6H1270.0V160.8H1271.4V161.9H1272.7V163.4H1274.1V156.2H1275.4V164.7H1276.8V167.3H1278.1V170.8H1279.5V177.6H1280.8V180.6H1282.2V172.3H1283.5V172.5H1284.9V163.3H1286.2V161.5H1287.6V175.6H1288.9V184.1H1290.3V171.1H1291.6V186.4H1293.0V184.4H1294.3V175.6H1295.7V177.3H1297.0V175.3H1298.4V176.8H1299.7V187.6H1301.1V180.2H1302.4V175.0H1303.8V172.7H1305.1V173.0H1306.5V166.9H1307.8V177.0H1309.2V184.6H1310.5V179.8H1311.9V188.4H1313.2V174.6H1314.6V171.0H1315.9V177.3H1317.3V172.6H1318.6V179.4H1320.0V181.7H1321.3V180.9H1322.7V183.7H1324.0V183.1H1325.4V183.5H1326.7V183.1H1328.1V187.0H1329.4V181.6H1330.8V177.9H1332.1V166.4H1333.5V169.6H1334.8V165.3" stroke-width="2.1"/>
<path d="M257.5 471.0H258.9V472.3H260.2V476.9H261.6V469.3H262.9V463.7H264.3V457.3H265.6V449.8H267.0V447.5H268.3V441.5H269.7V444.1H271.0V434.4H272.4V446.3H273.7V441.5H275.1V437.9H276.4V429.8H277.8V446.3H279.1V430.4H280.5V442.6H281.8V440.0H283.2V449.6H284.5V449.0H285.9V447.6H287.2V451.3H288.6V462.0H289.9V472.1H291.3V468.2H292.6V469.9H294.0V471.3H295.3V467.3H296.7V465.7H298.0V463.6H299.4V467.3H300.7V469.2H302.1V471.2H303.4V473.5H304.8V477.9H306.1V483.7H307.5V479.8H308.8V475.0H310.2V472.4H311.5V481.2H312.9V481.5H314.2V479.7H315.6V479.4H316.9V477.2H318.3V468.6H319.6V481.6H321.0V480.0H322.3V493.1H323.7V491.9H325.0V480.2H326.4V483.4H327.7V481.8H329.1V483.3H330.4V480.1H331.8V484.6H333.1V483.5H334.5V484.4H335.8V486.0H337.2V489.6H338.5V488.9H339.9V493.9H341.2V494.1H342.6V488.2H343.9V489.5H345.3V490.4H346.6V484.7H348.0V490.7H349.3V487.5H350.7V482.0H352.0V491.1H353.4V487.5H354.7V482.6H356.1V490.2H357.4V490.5H358.8V496.3H360.1V481.4H361.5V486.5H362.8V474.1H364.2V471.2H365.5V474.3H366.9V473.2H368.2V483.1H369.6V486.0H370.9V481.3H372.3V483.3H373.6V480.8H375.0V478.0H376.3V471.0H377.7V467.0H379.0V463.4H380.4V462.7H381.7V464.6H383.1V462.0H384.4V467.2H385.8V465.1H387.1V466.2H388.5V473.0H389.8V467.0H391.2V472.2H392.5V466.5H393.9V460.4H395.2V466.8H396.6V471.2H397.9V469.0H399.3V469.2H400.6V468.5H402.0V470.3H403.3V451.5H404.7V462.9H406.0V456.3H407.4V453.3H408.7V456.5H410.1V458.9H411.4V452.1H412.8V454.9H414.1V458.6H415.5V449.8H416.8V448.0H418.2V444.6H419.5V446.9H420.9V440.1H422.2V437.1H423.6V446.1H424.9V452.3H426.3V449.3H427.6V446.6H429.0V443.3H430.3V441.7H431.7V441.3H433.0V434.3H434.4V431.2H435.7V426.8H437.1V429.7H438.4V427.8H439.8V420.1H441.1V409.5H442.5V408.9H443.8V399.7H445.2V413.1H446.5V413.5H447.9V416.2H449.2V417.3H450.6V421.0H451.9V422.3H453.3V420.9H454.6V415.6H456.0V419.6H457.3V410.3H458.7V418.6H460.0V418.5H461.4V416.7H462.7V420.6H464.1V419.5H465.4V413.5H466.8V418.7H468.1V420.6H469.5V415.2H470.8V416.7H472.2V412.8H473.5V406.0H474.9V406.2H476.2V411.1H477.6V410.6H478.9V421.8H480.3V418.7H481.6V399.4H483.0V400.1H484.3V407.4H485.7V403.8H487.0V413.4H488.4V408.4H489.7V407.9H491.1V418.0H492.4V427.1H493.8V422.1H495.1V426.8H496.5V427.1H497.8V411.6H499.2V420.7H500.5V419.7H501.9V421.7H503.2V423.6H504.6V426.0H505.9V417.2H507.3V422.9H508.6V428.6H510.0V424.3H511.3V420.1H512.7V432.3H514.0V423.3H515.4V427.7H516.7V423.4H518.1V419.4H519.4V426.5H520.8V413.6H522.1V421.6H523.5V424.9H524.8V425.4H526.2V423.0H527.5V415.8H528.9V407.2H530.2V420.2H531.6V402.8H532.9V415.4H534.3V402.3H535.6V395.5H537.0V404.8H538.3V397.6H539.7V388.5H541.0V403.8H542.4V408.9H543.7V405.3H545.1V414.8H546.4V409.3H547.8V421.6H549.1V415.6H550.5V396.0H551.8V414.0H553.2V406.9H554.5V419.7H555.9V427.8H557.2V430.8H558.6V429.3H559.9V422.3H561.3V422.3H562.6V421.6H564.0V424.5H565.3V421.2H566.7V428.5H568.0V433.4H569.4V438.9H570.7V425.9H572.1V438.5H573.4V442.9H574.8V438.2H576.1V451.0H577.5V448.3H578.8V444.5H580.2V436.2H581.5V446.7H582.9V441.4H584.2V450.9H585.6V448.5H586.9V448.5H588.3V443.9H589.6V451.8H591.0V447.1H592.3V449.2H593.7V445.7H595.0V446.2H596.4V448.8H597.7V458.7H599.1V458.8H600.4V460.1H601.8V465.2H603.1V459.6H604.5V461.3H605.8V467.1H607.2V464.1H608.5V468.2H609.9V469.3H611.2V471.1H612.6V464.2H613.9V466.5H615.3V463.7H616.6V480.6H618.0V472.6H619.3V482.5H620.7V478.5H622.0V469.3H623.4V469.0H624.7V476.5H626.1V477.9H627.4V477.2H628.8V479.8H630.1V487.8H631.5V479.7H632.8V483.5H634.2V479.8H635.5V480.8H636.9V486.9H638.2V490.7H639.6V493.3H640.9V488.3H642.3V495.8H643.6V491.3H645.0V488.4H646.3V487.1H647.7V485.0H649.0V487.2H650.4V498.6H651.7V502.1H653.1V503.6H654.4V509.4H655.8V507.6H657.1V504.3H658.5V502.8H659.8V492.8H661.2V496.1H662.5V501.8H663.9V501.7H665.2V494.0H666.6V496.2H667.9V509.7H669.3V504.9H670.6V495.0H672.0V504.6H673.3V498.5H674.7V501.3H676.0V512.1H677.4V503.7H678.7V506.9H680.1V501.9H681.4V509.0H682.8V497.3H684.1V501.1H685.5V495.9H686.8V505.3H688.2V499.1H689.5V497.0H690.9V510.2H692.2V505.2H693.6V509.2H694.9V505.0H696.3V503.6H697.6V502.9H699.0V505.6H700.3V502.3H701.7V503.9H703.0V516.9H704.4V506.5H705.7V495.4H707.1V501.3H708.4V497.0H709.8V496.2H711.1V493.3H712.5V489.0H713.8V503.5H715.2V489.4H716.5V497.1H717.9V497.3H719.2V505.9H720.6V500.1H721.9V502.8H723.3V503.0H724.6V495.2H726.0V497.5H727.3V501.0H728.7V503.0H730.0V490.0H731.4V489.6H732.7V491.8H734.1V493.3H735.4V492.7H736.8V491.1H738.1V486.2H739.5V478.7H740.8V486.3H742.2V482.9H743.5V484.4H744.9V483.1H746.2V476.4H747.6V477.8H748.9V477.3H750.3V469.9H751.6V484.0H753.0V481.9H754.3V484.4H755.7V487.6H757.0V474.8H758.4V471.1H759.7V476.3H761.1V476.5H762.4V476.6H763.8V468.6H765.1V465.8H766.5V479.3H767.8V468.7H769.2V467.8H770.5V466.9H771.9V476.7H773.2V469.8H774.6V469.8H775.9V476.7H777.3V459.1H778.6V477.1H780.0V468.1H781.3V462.2H782.7V467.5H784.0V466.6H785.4V463.8H786.7V483.0H788.1V478.8H789.4V472.6H790.8V474.8H792.1V477.8H793.5V478.5H794.8V484.4H796.2V477.3H797.5V472.2H798.9V465.3H800.2V474.6H801.6V477.6H802.9V483.1H804.3V484.8H805.6V484.6H807.0V478.6H808.3V481.0H809.7V473.8H811.0V485.9H812.4V485.2H813.7V487.6H815.1V493.2H816.4V478.9H817.8V485.4H819.1V482.8H820.5V476.3H821.8V477.3H823.2V485.1H824.5V473.8H825.9V484.3H827.2V476.4H828.6V480.9H829.9V472.4H831.3V468.3H832.6V473.6H834.0V476.6H835.3V469.2H836.7V479.8H838.0V480.3H839.4V472.8H840.7V484.7H842.1V483.7H843.4V483.1H844.8V482.6H846.1V475.0H847.5V474.5H848.8V470.9H850.2V470.9H851.5V470.7H852.9V471.8H854.2V470.0H855.6V467.8H856.9V469.5H858.3V472.0H859.6V461.7H861.0V467.6H862.3V475.8H863.7V462.1H865.0V466.9H866.4V469.8H867.7V465.4H869.1V467.7H870.4V463.5H871.8V467.1H873.1V478.2H874.5V471.5H875.8V470.6H877.2V468.9H878.5V472.8H879.9V480.1H881.2V469.9H882.6V480.4H883.9V491.7H885.3V486.5H886.6V479.7H888.0V478.6H889.3V477.3H890.7V473.6H892.0V478.4H893.4V473.7H894.7V474.8H896.1V476.6H897.4V480.0H898.8V484.1H900.1V482.4H901.5V469.8H902.8V468.5H904.2V477.7H905.5V465.0H906.9V463.5H908.2V452.4H909.6V458.8H910.9V472.4H912.3V470.4H913.6V470.0H915.0V468.3H916.3V466.3H917.7V463.7H919.0V460.3H920.4V465.1H921.7V465.6H923.1V463.3H924.4V461.7H925.8V453.9H927.1V459.9H928.5V458.2H929.8V455.8H931.2V454.9H932.5V449.0H933.9V447.9H935.2V442.3H936.6V441.6H937.9V443.5H939.3V447.4H940.6V447.1H942.0V446.0H943.3V446.2H944.7V445.5H946.0V438.3H947.4V444.2H948.7V437.4H950.1V435.3H951.4V428.3H952.8V435.7H954.1V436.5H955.5V439.1H956.8V446.1H958.2V444.5H959.5V436.9H960.9V437.8H962.2V435.5H963.6V430.6H964.9V427.4H966.3V425.8H967.6V433.5H969.0V427.1H970.3V427.6H971.7V431.5H973.0V425.6H974.4V424.8H975.7V422.5H977.1V423.9H978.4V426.9H979.8V429.6H981.1V448.3H982.5V419.9H983.8V420.3H985.2V416.0H986.5V416.5H987.9V410.3H989.2V404.6H990.6V420.1H991.9V413.1H993.3V395.1H994.6V405.9H996.0V399.4H997.3V399.8H998.7V403.9H1000.0V397.7H1001.4V390.2H1002.7V398.4H1004.1V392.1H1005.4V390.6H1006.8V392.8H1008.1V389.2H1009.5V381.0H1010.8V389.2H1012.2V391.1H1013.5V377.1H1014.9V376.5H1016.2V389.3H1017.6V399.1H1018.9V393.9H1020.3V388.4H1021.6V383.3H1023.0V390.5H1024.3V391.7H1025.7V385.6H1027.0V386.2H1028.4V389.5H1029.7V381.2H1031.1V388.8H1032.4V390.4H1033.8V394.8H1035.1V392.4H1036.5V386.1H1037.8V377.3H1039.2V382.7H1040.5V382.4H1041.9V380.9H1043.2V374.7H1044.6V366.5H1045.9V370.8H1047.3V388.6H1048.6V385.6H1050.0V386.4H1051.3V393.2H1052.7V397.8H1054.0V391.8H1055.4V383.6H1056.7V386.4H1058.1V388.4H1059.4V394.9H1060.8V392.7H1062.1V385.1H1063.5V388.3H1064.8V386.1H1066.2V392.8H1067.5V389.2H1068.9V402.5H1070.2V402.8H1071.6V393.4H1072.9V397.3H1074.3V393.8H1075.6V377.6H1077.0V388.2H1078.3V381.2H1079.7V384.4H1081.0V383.0H1082.4V376.6H1083.7V386.1H1085.1V383.4H1086.4V384.6H1087.8V381.0H1089.1V377.6H1090.5V387.3H1091.8V376.0H1093.2V385.0H1094.5V383.4H1095.9V394.1H1097.2V393.4H1098.6V388.8H1099.9V397.9H1101.3V395.0H1102.6V399.7H1104.0V399.7H1105.3V405.4H1106.7V403.4H1108.0V403.7H1109.4V407.1H1110.7V392.8H1112.1V394.0H1113.4V398.9H1114.8V402.8H1116.1V408.5H1117.5V408.3H1118.8V406.9H1120.2V410.1H1121.5V410.1H1122.9V410.1H1124.2V403.0H1125.6V408.0H1126.9V403.9H1128.3V398.8H1129.6V402.8H1131.0V400.5H1132.3V396.2H1133.7V400.4H1135.0V413.0H1136.4V408.5H1137.7V413.5H1139.1V404.0H1140.4V403.6H1141.8V407.3H1143.1V416.0H1144.5V410.4H1145.8V421.1H1147.2V415.0H1148.5V416.6H1149.9V422.6H1151.2V415.5H1152.6V417.0H1153.9V418.4H1155.3V419.2H1156.6V423.4H1158.0V418.0H1159.3V415.2H1160.7V406.4H1162.0V412.0H1163.4V407.2H1164.7V417.4H1166.1V418.8H1167.4V416.4H1168.8V416.2H1170.1V416.9H1171.5V418.0H1172.8V426.1H1174.2V425.7H1175.5V423.6H1176.9V432.0H1178.2V436.8H1179.6V445.7H1180.9V441.4H1182.3V446.1H1183.6V443.2H1185.0V437.7H1186.3V437.7H1187.7V439.4H1189.0V432.3H1190.4V434.6H1191.7V437.6H1193.1V424.4H1194.4V436.4H1195.8V427.0H1197.1V420.2H1198.5V427.6H1199.8V415.9H1201.2V419.9H1202.5V414.8H1203.9V398.0H1205.2V401.0H1206.6V396.0H1207.9V401.8H1209.3V404.9H1210.6V402.4H1212.0V410.1H1213.3V416.3H1214.7V415.9H1216.0V408.8H1217.4V416.0H1218.7V409.1H1220.1V398.3H1221.4V411.1H1222.8V401.0H1224.1V397.6H1225.5V392.3H1226.8V395.6H1228.2V398.6H1229.5V396.8H1230.9V389.4H1232.2V388.2H1233.6V383.4H1234.9V382.1H1236.3V380.5H1237.6V373.0H1239.0V383.8H1240.3V380.5H1241.7V386.1H1243.0V389.5H1244.4V392.1H1245.7V388.2H1247.1V400.0H1248.4V404.2H1249.8V407.7H1251.1V407.4H1252.5V394.1H1253.8V400.2H1255.2V396.9H1256.5V395.3H1257.9V399.4H1259.2V398.8H1260.6V416.7H1261.9V401.3H1263.3V406.8H1264.6V400.5H1266.0V393.4H1267.3V394.3H1268.7V395.5H1270.0V383.1H1271.4V386.5H1272.7V383.9H1274.1V395.1H1275.4V393.4H1276.8V391.6H1278.1V392.5H1279.5V393.2H1280.8V391.3H1282.2V395.8H1283.5V393.9H1284.9V388.7H1286.2V395.8H1287.6V396.6H1288.9V402.2H1290.3V386.3H1291.6V387.8H1293.0V382.4H1294.3V381.4H1295.7V382.2H1297.0V370.2H1298.4V373.2H1299.7V377.3H1301.1V368.7H1302.4V373.2H1303.8V376.3H1305.1V374.0H1306.5V366.6H1307.8V358.1H1309.2V362.8H1310.5V357.5H1311.9V357.7H1313.2V358.5H1314.6V372.0H1315.9V384.5H1317.3V384.1H1318.6V375.2H1320.0V386.3H1321.3V385.3H1322.7V389.1H1324.0V401.5H1325.4V405.3H1326.7V405.1H1328.1V403.4H1329.4V417.3H1330.8V418.0" stroke-width="2.1"/>
<path d="M257.5 482.0H258.9V478.1H260.2V475.6H261.6V482.5H262.9V488.1H264.3V486.0H265.6V486.7H267.0V490.7H268.3V482.5H269.7V495.1H271.0V495.0H272.4V489.1H273.7V480.0H275.1V493.7H276.4V492.2H277.8V482.4H279.1V482.7H280.5V481.0H281.8V482.7H283.2V482.8H284.5V486.5H285.9V483.2H287.2V487.2H288.6V482.9H289.9V487.7H291.3V491.6H292.6V482.5H294.0V480.7H295.3V474.2H296.7V484.0H298.0V484.2H299.4V484.8H300.7V480.6H302.1V483.0H303.4V481.8H304.8V481.8H306.1V480.0H307.5V479.3H308.8V481.8H310.2V476.9H311.5V480.7H312.9V489.2H314.2V477.2H315.6V484.9H316.9V483.4H318.3V480.7H319.6V486.1H321.0V478.8H322.3V487.6H323.7V484.7H325.0V483.8H326.4V486.7H327.7V491.4H329.1V485.8H330.4V485.6H331.8V486.8H333.1V491.2H334.5V496.6H335.8V501.7H337.2V503.8H338.5V500.7H339.9V514.2H341.2V498.6H342.6V490.9H343.9V500.9H345.3V507.1H346.6V498.8H348.0V493.2H349.3V490.7H350.7V491.7H352.0V488.5H353.4V486.7H354.7V495.2H356.1V487.5H357.4V494.1H358.8V496.2H360.1V483.6H361.5V479.7H362.8V486.8H364.2V484.3H365.5V479.3H366.9V477.2H368.2V484.1H369.6V467.8H370.9V468.3H372.3V472.7H373.6V468.9H375.0V464.7H376.3V473.9H377.7V472.5H379.0V474.7H380.4V475.9H381.7V475.3H383.1V467.7H384.4V461.6H385.8V454.8H387.1V463.7H388.5V457.3H389.8V456.8H391.2V461.3H392.5V455.9H393.9V461.5H395.2V458.7H396.6V454.3H397.9V458.9H399.3V465.1H400.6V471.1H402.0V463.0H403.3V467.1H404.7V463.1H406.0V458.8H407.4V464.6H408.7V457.5H410.1V439.3H411.4V455.5H412.8V451.2H414.1V449.4H415.5V453.8H416.8V445.8H418.2V455.7H419.5V457.6H420.9V445.3H422.2V445.5H423.6V443.1H424.9V445.2H426.3V437.7H427.6V425.7H429.0V443.3H430.3V434.8H431.7V431.5H433.0V428.9H434.4V439.4H435.7V436.4H437.1V437.0H438.4V435.1H439.8V444.9H441.1V445.4H442.5V441.7H443.8V440.0H445.2V435.8H446.5V435.3H447.9V432.2H449.2V442.8H450.6V440.4H451.9V443.4H453.3V435.8H454.6V446.6H456.0V450.1H457.3V447.4H458.7V445.0H460.0V442.1H461.4V437.1H462.7V434.3H464.1V438.4H465.4V441.4H466.8V440.4H468.1V441.8H469.5V441.3H470.8V437.8H472.2V438.5H473.5V440.5H474.9V436.7H476.2V444.9H477.6V439.6H478.9V434.3H480.3V434.4H481.6V434.4H483.0V434.2H484.3V434.4H485.7V440.3H487.0V445.3H488.4V435.8H489.7V439.2H491.1V448.4H492.4V431.9H493.8V432.8H495.1V444.6H496.5V438.0H497.8V435.9H499.2V437.6H500.5V431.7H501.9V442.4H503.2V445.0H504.6V441.6H505.9V435.3H507.3V441.8H508.6V429.2H510.0V435.7H511.3V433.1H512.7V433.5H514.0V433.8H515.4V434.8H516.7V433.5H518.1V435.2H519.4V440.2H520.8V444.6H522.1V439.6H523.5V437.0H524.8V429.4H526.2V439.1H527.5V430.5H528.9V426.8H530.2V429.6H531.6V428.5H532.9V437.1H534.3V435.3H535.6V437.7H537.0V446.5H538.3V437.2H539.7V437.2H541.0V451.0H542.4V447.0H543.7V450.2H545.1V456.1H546.4V456.8H547.8V459.7H549.1V454.1H550.5V450.2H551.8V454.9H553.2V453.4H554.5V469.7H555.9V459.5H557.2V468.5H558.6V473.1H559.9V470.0H561.3V475.2H562.6V464.2H564.0V462.6H565.3V465.2H566.7V460.3H568.0V467.9H569.4V466.0H570.7V467.9H572.1V461.9H573.4V459.9H574.8V462.3H576.1V470.4H577.5V471.6H578.8V475.7H580.2V470.9H581.5V472.8H582.9V477.5H584.2V480.7H585.6V486.8H586.9V481.5H588.3V476.5H589.6V473.9H591.0V483.3H592.3V478.0H593.7V478.0H595.0V478.1H596.4V483.4H597.7V479.6H599.1V484.3H600.4V487.3H601.8V488.0H603.1V489.3H604.5V489.6H605.8V491.6H607.2V500.0H608.5V503.7H609.9V500.8H611.2V499.4H612.6V486.9H613.9V499.6H615.3V496.0H616.6V503.2H618.0V498.3H619.3V494.0H620.7V498.0H622.0V503.0H623.4V503.6H624.7V504.8H626.1V505.9H627.4V508.5H628.8V506.7H630.1V505.6H631.5V499.5H632.8V503.8H634.2V502.1H635.5V500.4H636.9V510.0H638.2V505.2H639.6V511.3H640.9V511.7H642.3V499.4H643.6V503.6H645.0V501.9H646.3V503.7H647.7V503.7H649.0V506.9H650.4V513.2H651.7V505.3H653.1V503.5H654.4V496.3H655.8V503.3H657.1V510.5H658.5V508.4H659.8V502.9H661.2V511.9H662.5V506.4H663.9V511.7H665.2V517.8H666.6V504.9H667.9V505.8H669.3V510.5H670.6V515.0H672.0V513.9H673.3V519.6H674.7V525.8H676.0V524.5H677.4V520.3H678.7V514.5H680.1V510.5H681.4V506.4H682.8V504.7H684.1V503.9H685.5V512.4H686.8V501.7H688.2V502.1H689.5V513.9H690.9V519.3H692.2V515.1H693.6V522.1H694.9V526.4H696.3V529.7H697.6V522.9H699.0V515.0H700.3V512.7H701.7V509.9H703.0V492.4H704.4V503.6H705.7V505.0H707.1V507.3H708.4V506.5H709.8V503.0H711.1V508.1H712.5V509.0H713.8V511.6H715.2V510.9H716.5V514.3H717.9V518.1H719.2V518.5H720.6V505.2H721.9V501.3H723.3V506.6H724.6V496.1H726.0V497.3H727.3V494.0H728.7V489.0H730.0V490.0H731.4V492.3H732.7V486.9H734.1V490.0H735.4V488.1H736.8V489.9H738.1V490.0H739.5V493.8H740.8V491.2H742.2V489.6H743.5V498.0H744.9V501.2H746.2V490.7H747.6V491.7H748.9V490.9H750.3V490.8H751.6V489.8H753.0V475.8H754.3V470.3H755.7V472.5H757.0V485.2H758.4V491.2H759.7V490.7H761.1V491.3H762.4V489.8H763.8V483.7H765.1V488.0H766.5V483.9H767.8V506.9H769.2V483.4H770.5V484.9H771.9V491.5H773.2V487.8H774.6V483.8H775.9V486.9H777.3V479.8H778.6V486.8H780.0V486.5H781.3V493.6H782.7V498.9H784.0V498.3H785.4V495.7H786.7V491.4H788.1V496.6H789.4V500.6H790.8V498.1H792.1V511.5H793.5V497.6H794.8V507.8H796.2V495.0H797.5V500.5H798.9V493.8H800.2V488.9H801.6V502.8H802.9V507.3H804.3V497.9H805.6V505.9H807.0V508.0H808.3V506.0H809.7V504.6H811.0V510.9H812.4V511.6H813.7V510.0H815.1V510.6H816.4V509.4H817.8V509.0H819.1V512.5H820.5V508.0H821.8V504.6H823.2V517.5H824.5V520.7H825.9V516.5H827.2V511.1H828.6V503.9H829.9V503.4H831.3V507.4H832.6V498.8H834.0V504.4H835.3V500.6H836.7V512.1H838.0V499.8H839.4V499.7H840.7V506.7H842.1V497.6H843.4V507.8H844.8V504.2H846.1V502.1H847.5V504.1H848.8V500.1H850.2V505.5H851.5V510.1H852.9V506.6H854.2V511.4H855.6V511.9H856.9V518.1H858.3V510.8H859.6V509.0H861.0V507.6H862.3V501.6H863.7V508.6H865.0V511.1H866.4V504.4H867.7V508.5H869.1V505.4H870.4V504.8H871.8V502.0H873.1V497.5H874.5V504.1H875.8V511.2H877.2V506.9H878.5V503.9H879.9V508.7H881.2V508.3H882.6V518.5H883.9V519.6H885.3V516.1H886.6V517.8H888.0V522.5H889.3V523.2H890.7V519.5H892.0V525.0H893.4V516.3H894.7V515.8H896.1V514.9H897.4V517.3H898.8V512.5H900.1V514.6H901.5V507.3H902.8V507.9H904.2V498.7H905.5V500.5H906.9V491.8H908.2V492.4H909.6V489.9H910.9V486.9H912.3V490.4H913.6V491.8H915.0V486.4H916.3V489.5H917.7V485.7H919.0V488.8H920.4V475.0H921.7V479.4H923.1V488.8H924.4V491.6H925.8V491.2H927.1V486.3H928.5V487.7H929.8V491.4H931.2V473.3H932.5V472.5H933.9V475.0H935.2V459.7H936.6V456.1H937.9V463.2H939.3V468.0H940.6V468.1H942.0V460.3H943.3V463.1H944.7V461.0H946.0V461.1H947.4V461.6H948.7V456.4H950.1V462.0H951.4V462.1H952.8V454.7H954.1V447.2H955.5V444.5H956.8V447.9H958.2V450.5H959.5V446.2H960.9V440.8H962.2V445.1H963.6V436.2H964.9V442.2H966.3V441.6H967.6V435.7H969.0V432.5H970.3V433.5H971.7V433.1H973.0V442.1H974.4V440.0H975.7V452.5H977.1V449.2H978.4V455.0H979.8V444.6H981.1V441.1H982.5V447.2H983.8V441.8H985.2V436.1H986.5V429.3H987.9V423.0H989.2V418.3H990.6V429.7H991.9V428.2H993.3V417.6H994.6V415.1H996.0V420.6H997.3V419.1H998.7V426.6H1000.0V424.1H1001.4V423.3H1002.7V418.5H1004.1V419.2H1005.4V424.2H1006.8V420.6H1008.1V418.2H1009.5V418.0H1010.8V415.1H1012.2V397.8H1013.5V404.3H1014.9V408.1H1016.2V404.0H1017.6V405.8H1018.9V395.6H1020.3V413.9H1021.6V414.0H1023.0V415.7H1024.3V420.4H1025.7V422.3H1027.0V425.1H1028.4V441.0H1029.7V446.4H1031.1V440.8H1032.4V441.0H1033.8V443.9H1035.1V435.6H1036.5V427.3H1037.8V419.9H1039.2V416.2H1040.5V406.7H1041.9V412.0H1043.2V401.4H1044.6V395.5H1045.9V403.1H1047.3V397.1H1048.6V404.0H1050.0V399.1H1051.3V397.5H1052.7V404.5H1054.0V399.1H1055.4V401.0H1056.7V401.1H1058.1V400.7H1059.4V400.0H1060.8V401.8H1062.1V398.8H1063.5V400.4H1064.8V404.5H1066.2V402.3H1067.5V403.6H1068.9V413.4H1070.2V400.9H1071.6V401.2H1072.9V393.3H1074.3V392.3H1075.6V393.4H1077.0V399.9H1078.3V392.8H1079.7V395.6H1081.0V407.2H1082.4V397.6H1083.7V400.4H1085.1V405.3H1086.4V400.1H1087.8V413.0H1089.1V414.9H1090.5V415.7H1091.8V418.5H1093.2V396.7H1094.5V403.2H1095.9V400.5H1097.2V402.9H1098.6V402.5H1099.9V409.1H1101.3V418.3H1102.6V419.4H1104.0V419.0H1105.3V422.5H1106.7V415.2H1108.0V421.3H1109.4V417.7H1110.7V422.3H1112.1V424.1H1113.4V421.1H1114.8V428.5H1116.1V433.6H1117.5V430.7H1118.8V423.6H1120.2V439.4H1121.5V436.8H1122.9V425.4H1124.2V423.3H1125.6V431.1H1126.9V427.3H1128.3V435.8H1129.6V438.6H1131.0V444.0H1132.3V436.2H1133.7V426.5H1135.0V431.3H1136.4V426.2H1137.7V425.3H1139.1V432.4H1140.4V430.3H1141.8V433.9H1143.1V437.5H1144.5V429.1H1145.8V434.1H1147.2V431.9H1148.5V430.8H1149.9V438.0H1151.2V432.3H1152.6V430.8H1153.9V430.5H1155.3V422.5H1156.6V420.5H1158.0V425.7H1159.3V429.9H1160.7V422.7H1162.0V424.9H1163.4V427.8H1164.7V438.9H1166.1V435.6H1167.4V437.7H1168.8V437.8H1170.1V456.8H1171.5V451.5H1172.8V442.7H1174.2V447.9H1175.5V467.4H1176.9V445.8H1178.2V449.5H1179.6V444.5H1180.9V439.4H1182.3V449.3H1183.6V452.2H1185.0V450.7H1186.3V443.9H1187.7V441.6H1189.0V454.4H1190.4V445.0H1191.7V443.1H1193.1V452.7H1194.4V448.5H1195.8V449.5H1197.1V438.3H1198.5V435.5H1199.8V430.2H1201.2V417.7H1202.5V433.6H1203.9V423.2H1205.2V431.1H1206.6V435.5H1207.9V426.8H1209.3V428.8H1210.6V429.6H1212.0V421.9H1213.3V415.1H1214.7V412.9H1216.0V410.5H1217.4V414.9H1218.7V411.6H1220.1V414.3H1221.4V402.7H1222.8V422.3H1224.1V419.8H1225.5V418.6H1226.8V410.9H1228.2V417.5H1229.5V420.4H1230.9V412.0H1232.2V413.3H1233.6V415.7H1234.9V409.1H1236.3V405.3H1237.6V410.3H1239.0V412.3H1240.3V410.4H1241.7V413.8H1243.0V413.6H1244.4V416.3H1245.7V428.5H1247.1V441.8H1248.4V431.6H1249.8V432.1H1251.1V427.6H1252.5V438.7H1253.8V439.1H1255.2V445.3H1256.5V453.0H1257.9V446.2H1259.2V436.0H1260.6V439.2H1261.9V440.9H1263.3V440.4H1264.6V456.1H1266.0V436.8H1267.3V438.2H1268.7V426.0H1270.0V418.5H1271.4V420.9H1272.7V423.5H1274.1V430.5H1275.4V426.5H1276.8V421.0H1278.1V416.3H1279.5V414.4H1280.8V412.0H1282.2V407.2H1283.5V415.3H1284.9V410.3H1286.2V409.6H1287.6V413.9H1288.9V412.6H1290.3V417.0H1291.6V412.9H1293.0V413.2H1294.3V412.2H1295.7V410.3H1297.0V413.4H1298.4V419.4H1299.7V415.1H1301.1V414.2H1302.4V418.6H1303.8V410.9H1305.1V398.5H1306.5V393.5H1307.8V391.2H1309.2V383.9H1310.5V381.0H1311.9V377.5H1313.2V385.3H1314.6V387.7H1315.9V397.4H1317.3V394.8H1318.6V400.4H1320.0V398.0H1321.3V408.0H1322.7V397.0H1324.0V403.8H1325.4V407.5H1326.7V419.6H1328.1V425.6H1329.4V430.4H1330.8V432.4" stroke-width="2.1"/>
<path d="M257.5 507.1H259.1V513.1H260.7V507.0H262.3V507.0H263.9V512.8H265.5V516.4H267.1V513.8H268.7V515.6H270.3V512.1H271.9V510.1H273.5V506.6H275.1V502.3H276.7V499.9H278.3V499.2H279.9V495.1H281.5V499.4H283.1V502.1H284.7V505.3H286.3V502.8H287.9V502.1H289.5V500.4H291.1V495.5H292.7V497.0H294.3V497.4H295.9V497.3H297.5V494.7H299.1V497.6H300.7V496.6H302.3V503.3H303.9V503.0H305.5V505.0H307.1V506.6H308.7V507.1H310.3V507.7H311.9V507.1H313.5V508.9H315.1V506.2H316.7V508.3H318.3V510.7H319.9V511.8H321.5V513.2H323.1V512.9H324.7V515.6H326.3V514.9H327.9V517.8H329.5V521.3H331.1V520.3H332.7V521.0H334.3V520.9H335.9V519.5H337.5V520.3H339.1V526.2H340.7V524.1H342.3V526.3H343.9V522.6H345.5V523.8H347.1V525.3H348.7V530.5H350.3V532.0H351.9V532.5H353.5V536.9H355.1V538.1H356.7V541.7H358.3V542.1H359.9V541.9H361.5V541.7H363.1V535.0H364.7V536.9H366.3V536.3H367.9V536.4H369.5V531.3H371.1V533.6H372.7V530.7H374.3V532.1H375.9V526.0H377.5V526.5H379.1V523.2H380.7V519.6H382.3V514.7H383.9V518.9H385.5V513.9H387.1V510.4H388.7V510.7H390.3V507.2H391.9V501.0H393.5V501.3H395.1V498.5H396.7V494.8H398.3V492.6H399.9V490.0H401.5V488.1H403.1V487.4H404.7V482.1H406.3V482.8H407.9V476.7H409.5V468.6H411.1V467.5H412.7V463.8H414.3V465.2H415.9V464.7H417.5V464.4H419.1V460.8H420.7V460.9H422.3V462.4H423.9V453.6H425.5V447.1H427.1V448.3H428.7V444.2H430.3V438.4H431.9V439.2H433.5V442.3H435.1V433.3H436.7V437.9H438.3V440.9H439.9V442.7H441.5V437.9H443.1V437.5H444.7V436.7H446.3V436.5H447.9V436.0H449.5V434.1H451.1V434.2H452.7V437.3H454.3V437.0H455.9V437.7H457.5V436.1H459.1V431.9H460.7V437.0H462.3V439.9H463.9V443.3H465.5V445.1H467.1V447.4H468.7V448.0H470.3V450.5H471.9V451.8H473.5V449.7H475.1V450.2H476.7V446.8H478.3V447.2H479.9V448.3H481.5V448.7H483.1V443.8H484.7V443.9H486.3V446.1H487.9V446.0H489.5V445.5H491.1V447.0H492.7V449.8H494.3V448.3H495.9V455.2H497.5V455.2H499.1V458.7H500.7V468.1H502.3V461.7H503.9V461.1H505.5V461.0H507.1V462.0H508.7V459.3H510.3V458.4H511.9V458.0H513.5V461.4H515.1V455.6H516.7V457.7H518.3V460.3H519.9V462.2H521.5V462.3H523.1V458.6H524.7V461.5H526.3V458.5H527.9V463.3H529.5V466.3H531.1V465.2H532.7V465.1H534.3V463.3H535.9V462.1H537.5V464.3H539.1V464.5H540.7V465.5H542.3V460.7H543.9V465.4H545.5V466.5H547.1V465.5H548.7V470.8H550.3V472.1H551.9V470.4H553.5V474.9H555.1V469.1H556.7V472.7H558.3V478.6H559.9V480.2H561.5V480.2H563.1V482.8H564.7V485.9H566.3V487.9H567.9V490.4H569.5V491.1H571.1V492.5H572.7V492.7H574.3V495.1H575.9V497.1H577.5V498.3H579.1V495.9H580.7V500.8H582.3V503.2H583.9V505.9H585.5V505.0H587.1V505.8H588.7V512.0H590.3V517.5H591.9V521.0H593.5V524.0H595.1V524.5H596.7V524.3H598.3V520.2H599.9V520.1H601.5V520.8H603.1V521.7H604.7V519.7H606.3V522.8H607.9V522.7H609.5V520.0H611.1V522.7H612.7V523.9H614.3V523.7H615.9V524.7H617.5V524.8H619.1V522.4H620.7V520.0H622.3V525.1H623.9V528.7H625.5V530.9H627.1V527.8H628.7V528.3H630.3V532.5H631.9V534.8H633.5V533.6H635.1V532.0H636.7V535.4H638.3V537.4H639.9V537.8H641.5V536.4H643.1V535.8H644.7V538.5H646.3V540.9H647.9V536.7H649.5V534.2H651.1V537.5H652.7V537.3H654.3V538.3H655.9V538.6H657.5V533.4H659.1V530.8H660.7V534.1H662.3V532.8H663.9V533.8H665.5V534.2H667.1V532.0H668.7V535.6H670.3V534.4H671.9V536.6H673.5V537.0H675.1V538.3H676.7V543.8H678.3V545.2H679.9V543.1H681.5V540.0H683.1V538.7H684.7V540.2H686.3V539.1H687.9V539.4H689.5V543.1H691.1V543.2H692.7V539.8H694.3V539.2H695.9V538.6H697.5V541.2H699.1V544.1H700.7V538.8H702.3V539.8H703.9V541.0H705.5V543.0H707.1V544.7H708.7V544.6H710.3V543.0H711.9V541.3H713.5V544.1H715.1V543.6H716.7V546.2H718.3V544.6H719.9V541.7H721.5V537.3H723.1V536.5H724.7V537.0H726.3V536.8H727.9V540.1H729.5V538.9H731.1V541.2H732.7V539.9H734.3V538.9H735.9V537.5H737.5V531.5H739.1V531.6H740.7V533.7H742.3V535.8H743.9V535.3H745.5V535.4H747.1V531.2H748.7V525.0H750.3V529.7H751.9V527.1H753.5V526.3H755.1V528.3H756.7V527.2H758.3V528.0H759.9V530.9H761.5V533.0H763.1V530.3H764.7V537.0H766.3V541.3H767.9V538.7H769.5V538.3H771.1V537.5H772.7V540.8H774.3V540.6H775.9V542.0H777.5V537.4H779.1V538.5H780.7V534.6H782.3V543.6H783.9V543.2H785.5V541.6H787.1V542.9H788.7V547.1H790.3V551.0H791.9V546.2H793.5V548.0H795.1V552.0H796.7V552.8H798.3V553.8H799.9V553.0H801.5V551.8H803.1V551.8H804.7V551.7H806.3V555.9H807.9V556.0H809.5V556.5H811.1V555.5H812.7V549.8H814.3V553.7H815.9V555.3H817.5V556.7H819.1V558.0H820.7V558.0H822.3V558.1H823.9V554.8H825.5V555.2H827.1V554.5H828.7V550.9H830.3V554.5H831.9V557.2H833.5V552.8H835.1V555.4H836.7V558.1H838.3V556.0H839.9V560.3H841.5V562.1H843.1V559.4H844.7V559.2H846.3V561.6H847.9V557.3H849.5V553.1H851.1V550.0H852.7V554.3H854.3V554.9H855.9V553.6H857.5V552.8H859.1V553.2H860.7V554.4H862.3V554.0H863.9V554.0H865.5V553.0H867.1V555.4H868.7V551.0H870.3V550.3H871.9V547.6H873.5V551.8H875.1V556.6H876.7V556.7H878.3V553.2H879.9V552.8H881.5V552.6H883.1V548.0H884.7V548.8H886.3V551.5H887.9V548.6H889.5V545.9H891.1V553.1H892.7V551.5H894.3V552.7H895.9V558.2H897.5V556.8H899.1V558.9H900.7V560.8H902.3V558.8H903.9V551.4H905.5V547.7H907.1V539.5H908.7V535.4H910.3V533.7H911.9V539.7H913.5V534.9H915.1V531.1H916.7V528.6H918.3V526.2H919.9V525.0H921.5V524.3H923.1V524.4H924.7V522.8H926.3V527.2H927.9V527.1H929.5V523.7H931.1V524.1H932.7V518.0H934.3V512.3H935.9V511.8H937.5V510.1H939.1V506.1H940.7V506.4H942.3V504.7H943.9V502.0H945.5V499.7H947.1V498.7H948.7V502.2H950.3V498.3H951.9V499.8H953.5V499.6H955.1V500.4H956.7V497.1H958.3V495.2H959.9V494.0H961.5V495.3H963.1V487.8H964.7V487.9H966.3V485.8H967.9V484.1H969.5V484.9H971.1V488.3H972.7V485.0H974.3V490.1H975.9V483.2H977.5V480.8H979.1V476.7H980.7V482.8H982.3V484.0H983.9V479.8H985.5V480.4H987.1V481.6H988.7V477.0H990.3V473.8H991.9V475.1H993.5V476.6H995.1V473.6H996.7V476.2H998.3V476.0H999.9V474.6H1001.5V471.2H1003.1V470.1H1004.7V471.2H1006.3V472.8H1007.9V472.5H1009.5V469.3H1011.1V472.6H1012.7V471.8H1014.3V474.0H1015.9V469.5H1017.5V468.3H1019.1V472.5H1020.7V469.7H1022.3V467.5H1023.9V466.8H1025.5V464.9H1027.1V463.0H1028.7V463.9H1030.3V464.0H1031.9V463.6H1033.5V469.4H1035.1V470.4H1036.7V467.0H1038.3V471.6H1039.9V468.4H1041.5V466.5H1043.1V460.8H1044.7V458.0H1046.3V461.0H1047.9V464.9H1049.5V463.3H1051.1V462.8H1052.7V468.1H1054.3V464.5H1055.9V460.0H1057.5V462.2H1059.1V463.1H1060.7V465.1H1062.3V466.7H1063.9V468.4H1065.5V469.3H1067.1V470.1H1068.7V471.5H1070.3V475.2H1071.9V480.5H1073.5V476.1H1075.1V476.5H1076.7V477.3H1078.3V477.5H1079.9V476.6H1081.5V477.3H1083.1V476.0H1084.7V472.7H1086.3V472.4H1087.9V474.9H1089.5V479.4H1091.1V481.8H1092.7V483.6H1094.3V484.1H1095.9V486.7H1097.5V489.8H1099.1V493.3H1100.7V490.8H1102.3V493.2H1103.9V493.2H1105.5V494.0H1107.1V494.4H1108.7V494.6H1110.3V492.4H1111.9V499.4H1113.5V495.8H1115.1V501.3H1116.7V497.9H1118.3V498.3H1119.9V497.3H1121.5V501.3H1123.1V504.2H1124.7V508.0H1126.3V503.3H1127.9V506.2H1129.5V512.7H1131.1V505.4H1132.7V508.3H1134.3V509.2H1135.9V510.6H1137.5V511.8H1139.1V516.7H1140.7V518.9H1142.3V523.2H1143.9V527.6H1145.5V525.1H1147.1V522.1H1148.7V525.4H1150.3V522.3H1151.9V522.5H1153.5V522.0H1155.1V519.7H1156.7V512.6H1158.3V503.7H1159.9V494.4H1161.5V495.4H1163.1V503.0H1164.7V504.1H1166.3V504.9H1167.9V508.1H1169.5V511.1H1171.1V513.3H1172.7V508.2H1174.3V501.9H1175.9V501.2H1177.5V506.3H1179.1V504.3H1180.7V500.7H1182.3V504.7H1183.9V501.5H1185.5V499.6H1187.1V501.5H1188.7V498.5H1190.3V495.9H1191.9V495.2H1193.5V493.2H1195.1V491.2H1196.7V488.4H1198.3V486.1H1199.9V488.4H1201.5V487.5H1203.1V484.6H1204.7V484.2H1206.3V482.9H1207.9V489.0H1209.5V486.9H1211.1V488.4H1212.7V487.3H1214.3V486.0H1215.9V482.6H1217.5V483.8H1219.1V478.9H1220.7V483.4H1222.3V477.5H1223.9V482.9H1225.5V480.8H1227.1V479.7H1228.7V485.5H1230.3V482.6H1231.9V482.4H1233.5V484.0H1235.1V485.4H1236.7V486.9H1238.3V488.5H1239.9V489.5H1241.5V488.7H1243.1V491.5H1244.7V492.8H1246.3V493.1H1247.9V494.3H1249.5V491.5H1251.1V492.8H1252.7V495.4H1254.3V497.6H1255.9V491.9H1257.5V492.7H1259.1V490.7H1260.7V490.2H1262.3V487.2H1263.9V480.7H1265.5V474.4H1267.1V471.6H1268.7V475.0H1270.3V469.8H1271.9V467.1H1273.5V469.8H1275.1V470.3H1276.7V472.1H1278.3V471.2H1279.9V472.6H1281.5V469.5H1283.1V471.2H1284.7V472.4H1286.3V468.5H1287.9V468.2H1289.5V466.3H1291.1V468.4H1292.7V470.7H1294.3V466.2H1295.9V470.4H1297.5V473.4H1299.1V468.5H1300.7V465.5H1302.3V465.9H1303.9V464.6H1305.5V468.1H1307.1V468.9H1308.7V467.3H1310.3V465.7H1311.9V464.7H1313.5V462.1H1315.1V462.5H1316.7V459.2H1318.3V464.2H1319.9V460.3H1321.5V459.3H1323.1V462.7H1324.7V460.2H1326.3V468.3H1327.9V470.6H1329.5V476.3" stroke-width="1.8"/>
<path d="M257.5 654.9H259.1V658.5H260.7V658.8H262.3V657.8H263.9V656.2H265.5V655.9H267.1V653.9H268.7V656.5H270.3V650.4H271.9V629.9H273.5V610.3H275.1V593.3H276.7V590.0H278.3V586.9H279.9V584.9H281.5V587.1H283.1V581.3H284.7V584.3H286.3V594.6H287.9V609.8H289.5V630.7H291.1V651.6H292.7V671.4H294.3V692.5H295.9V715.0H297.5V701.0H299.1V680.9H300.7V675.7H302.3V680.9H303.9V681.4H305.5V682.7H307.1V693.2H308.7V699.7H310.3V708.8H311.9V724.6H313.5V739.6H315.1V754.8H316.7V790.1H318.3V805.2H319.9V814.2H321.5V812.6H323.1V805.0H324.7V790.9H326.3V779.8H327.9V772.8H329.5V761.0H331.1V759.5H332.7V751.8H334.3V744.5H335.9V744.0H337.5V741.7H339.1V732.6H340.7V734.0H342.3V730.9H343.9V728.2H345.5V727.4H347.1V721.4H348.7V717.2H350.3V717.7H351.9V712.9H353.5V711.9H355.1V709.6H356.7V705.6H358.3V704.3H359.9V700.0H361.5V701.0H363.1V701.3H364.7V701.5H366.3V696.9H367.9V693.8H369.5V694.5H371.1V688.0H372.7V689.2H374.3V691.3H375.9V693.5H377.5V692.5H379.1V689.2H380.7V684.5H382.3V683.6H383.9V682.1H385.5V677.3H387.1V673.1H388.7V671.2H390.3V666.8H391.9V662.3H393.5V654.5H395.1V651.7H396.7V650.1H398.3V645.8H399.9V642.0H401.5V641.4H403.1V642.1H404.7V638.0H406.3V640.4H407.9V640.4H409.5V639.7H411.1V635.8H412.7V638.2H414.3V631.7H415.9V629.3H417.5V633.7H419.1V631.7H420.7V629.2H422.3V636.4H423.9V636.8H425.5V639.7H427.1V643.3H428.7V648.1H430.3V646.8H431.9V652.1H433.5V655.4H435.1V658.5H436.7V660.3H438.3V661.7H439.9V663.6H441.5V666.6H443.1V669.6H444.7V672.3H446.3V678.0H447.9V679.5H449.5V682.4H451.1V680.3H452.7V680.1H454.3V678.7H455.9V679.2H457.5V682.7H459.1V682.8H460.7V684.6H462.3V676.9H463.9V680.0H465.5V674.5H467.1V674.3H468.7V671.0H470.3V665.3H471.9V665.7H473.5V667.5H475.1V662.8H476.7V659.2H478.3V656.2H479.9V649.6H481.5V651.7H483.1V647.9H484.7V646.3H486.3V640.7H487.9V641.5H489.5V635.7H491.1V636.2H492.7V633.6H494.3V635.6H495.9V633.5H497.5V626.5H499.1V628.0H500.7V625.0H502.3V626.1H503.9V623.3H505.5V623.1H507.1V621.1H508.7V621.8H510.3V621.7H511.9V622.0H513.5V621.1H515.1V625.9H516.7V628.1H518.3V626.5H519.9V628.5H521.5V626.2H523.1V623.1H524.7V626.4H526.3V624.6H527.9V625.5H529.5V625.1H531.1V626.9H532.7V625.1H534.3V622.9H535.9V623.0H537.5V624.1H539.1V629.0H540.7V628.2H542.3V626.7H543.9V631.9H545.5V631.2H547.1V632.7H548.7V637.9H550.3V642.4H551.9V641.4H553.5V643.4H555.1V644.6H556.7V647.5H558.3V646.1H559.9V638.4H561.5V646.8H563.1V648.7H564.7V650.3H566.3V649.0H567.9V648.9H569.5V649.6H571.1V647.0H572.7V644.8H574.3V643.0H575.9V644.9H577.5V640.7H579.1V643.3H580.7V642.1H582.3V643.2H583.9V643.1H585.5V646.0H587.1V642.4H588.7V636.3H590.3V637.4H591.9V633.7H593.5V634.8H595.1V632.2H596.7V628.1H598.3V624.1H599.9V625.6H601.5V620.8H603.1V625.3H604.7V624.7H606.3V623.2H607.9V620.1H609.5V619.5H611.1V619.7H612.7V622.0H614.3V619.4H615.9V620.9H617.5V623.3H619.1V619.2H620.7V620.0H622.3V617.3H623.9V619.3H625.5V622.3H627.1V621.0H628.7V619.9H630.3V622.0H631.9V625.2H633.5V620.8H635.1V624.1H636.7V619.7H638.3V622.0H639.9V617.4H641.5V617.6H643.1V616.9H644.7V614.2H646.3V614.0H647.9V612.4H649.5V612.5H651.1V611.5H652.7V604.9H654.3V602.4H655.9V602.9H657.5V597.9H659.1V599.5H660.7V604.0H662.3V604.9H663.9V600.0H665.5V597.7H667.1V600.7H668.7V601.5H670.3V597.4H671.9V599.7H673.5V596.9H675.1V589.2H676.7V600.0H678.3V597.4H679.9V592.6H681.5V594.1H683.1V593.2H684.7V595.1H686.3V589.1H687.9V589.4H689.5V589.3H691.1V585.5H692.7V591.9H694.3V594.5H695.9V592.3H697.5V594.0H699.1V595.1H700.7V589.7H702.3V591.4H703.9V592.7H705.5V595.8H707.1V593.5H708.7V595.3H710.3V596.8H711.9V599.7H713.5V602.6H715.1V599.0H716.7V604.3H718.3V601.2H719.9V603.2H721.5V599.7H723.1V600.1H724.7V603.2H726.3V606.5H727.9V607.1H729.5V606.3H731.1V605.9H732.7V606.2H734.3V607.4H735.9V607.8H737.5V613.4H739.1V610.7H740.7V614.3H742.3V611.9H743.9V614.5H745.5V618.1H747.1V618.9H748.7V621.1H750.3V620.1H751.9V621.6H753.5V625.2H755.1V632.8H756.7V631.7H758.3V634.9H759.9V629.0H761.5V630.3H763.1V625.4H764.7V625.3H766.3V624.5H767.9V627.3H769.5V621.5H771.1V624.4H772.7V626.7H774.3V624.5H775.9V620.8H777.5V622.7H779.1V620.1H780.7V619.2H782.3V620.5H783.9V627.4H785.5V626.8H787.1V626.0H788.7V627.9H790.3V628.5H791.9V629.7H793.5V629.4H795.1V633.0H796.7V629.3H798.3V630.9H799.9V630.9H801.5V627.9H803.1V625.3H804.7V624.1H806.3V621.5H807.9V614.6H809.5V612.6H811.1V610.0H812.7V611.3H814.3V611.0H815.9V606.7H817.5V601.2H819.1V598.8H820.7V599.3H822.3V596.4H823.9V596.8H825.5V599.5H827.1V595.9H828.7V598.3H830.3V596.7H831.9V598.7H833.5V599.3H835.1V603.4H836.7V604.7H838.3V605.8H839.9V600.6H841.5V602.8H843.1V598.6H844.7V600.1H846.3V603.1H847.9V606.8H849.5V605.7H851.1V604.8H852.7V601.1H854.3V603.2H855.9V607.3H857.5V611.0H859.1V609.9H860.7V608.2H862.3V604.7H863.9V607.5H865.5V610.9H867.1V608.5H868.7V608.1H870.3V607.6H871.9V612.6H873.5V617.4H875.1V617.6H876.7V617.1H878.3V620.9H879.9V622.6H881.5V620.3H883.1V620.2H884.7V613.2H886.3V618.8H887.9V620.9H889.5V625.3H891.1V625.2H892.7V629.3H894.3V627.6H895.9V626.7H897.5V625.9H899.1V630.4H900.7V630.7H902.3V631.5H903.9V631.8H905.5V630.4H907.1V627.6H908.7V634.3H910.3V630.9H911.9V628.8H913.5V633.9H915.1V635.3H916.7V637.9H918.3V636.0H919.9V634.2H921.5V633.4H923.1V635.2H924.7V636.1H926.3V637.2H927.9V634.7H929.5V633.9H931.1V628.0H932.7V627.8H934.3V638.2H935.9V628.6H937.5V630.9H939.1V635.2H940.7V633.7H942.3V629.3H943.9V631.8H945.5V635.7H947.1V633.7H948.7V632.8H950.3V633.3H951.9V632.4H953.5V632.2H955.1V634.0H956.7V638.1H958.3V633.5H959.9V634.3H961.5V632.6H963.1V632.6H964.7V634.3H966.3V634.5H967.9V639.9H969.5V637.1H971.1V638.4H972.7V637.9H974.3V636.4H975.9V637.5H977.5V635.9H979.1V637.5H980.7V633.9H982.3V633.5H983.9V631.3H985.5V629.9H987.1V631.1H988.7V627.3H990.3V627.3H991.9V621.7H993.5V625.4H995.1V620.0H996.7V613.9H998.3V615.8H999.9V616.0H1001.5V619.1H1003.1V612.1H1004.7V609.9H1006.3V606.6H1007.9V610.2H1009.5V612.8H1011.1V611.1H1012.7V613.4H1014.3V613.9H1015.9V617.3H1017.5V614.0H1019.1V610.9H1020.7V608.8H1022.3V614.9H1023.9V612.7H1025.5V612.9H1027.1V614.0H1028.7V614.2H1030.3V617.8H1031.9V624.2H1033.5V626.0H1035.1V621.2H1036.7V621.6H1038.3V620.7H1039.9V625.3H1041.5V628.9H1043.1V625.5H1044.7V623.4H1046.3V623.6H1047.9V628.9H1049.5V625.3H1051.1V628.0H1052.7V625.7H1054.3V630.1H1055.9V628.9H1057.5V630.0H1059.1V626.7H1060.7V626.4H1062.3V627.9H1063.9V629.3H1065.5V630.2H1067.1V622.7H1068.7V620.6H1070.3V621.3H1071.9V623.1H1073.5V622.2H1075.1V623.5H1076.7V621.8H1078.3V622.7H1079.9V621.2H1081.5V626.9H1083.1V629.7H1084.7V628.6H1086.3V627.5H1087.9V628.2H1089.5V627.8H1091.1V624.6H1092.7V626.2H1094.3V624.1H1095.9V625.6H1097.5V625.2H1099.1V623.3H1100.7V622.4H1102.3V622.3H1103.9V618.4H1105.5V620.8H1107.1V619.7H1108.7V621.3H1110.3V620.0H1111.9V618.4H1113.5V620.5H1115.1V619.4H1116.7V619.5H1118.3V618.7H1119.9V615.3H1121.5V616.7H1123.1V619.6H1124.7V619.0H1126.3V620.7H1127.9V623.1H1129.5V620.8H1131.1V620.8H1132.7V622.5H1134.3V624.1H1135.9V623.7H1137.5V629.5H1139.1V630.3H1140.7V629.3H1142.3V632.5H1143.9V635.9H1145.5V631.6H1147.1V634.1H1148.7V636.2H1150.3V638.4H1151.9V640.2H1153.5V640.0H1155.1V640.6H1156.7V642.8H1158.3V644.2H1159.9V644.0H1161.5V638.5H1163.1V642.7H1164.7V646.4H1166.3V647.6H1167.9V649.2H1169.5V644.4H1171.1V646.9H1172.7V649.9H1174.3V644.6H1175.9V647.3H1177.5V646.8H1179.1V646.8H1180.7V647.4H1182.3V649.1H1183.9V651.5H1185.5V653.0H1187.1V655.1H1188.7V657.8H1190.3V656.1H1191.9V651.6H1193.5V646.9H1195.1V649.0H1196.7V646.6H1198.3V645.6H1199.9V646.3H1201.5V647.2H1203.1V642.4H1204.7V643.0H1206.3V642.5H1207.9V642.4H1209.5V644.8H1211.1V644.8H1212.7V641.1H1214.3V642.1H1215.9V638.7H1217.5V638.7H1219.1V636.5H1220.7V638.9H1222.3V637.7H1223.9V633.8H1225.5V634.2H1227.1V632.0H1228.7V629.6H1230.3V623.7H1231.9V625.4H1233.5V630.2H1235.1V633.9H1236.7V634.0H1238.3V636.6H1239.9V638.3H1241.5V625.3H1243.1V636.9H1244.7V638.4H1246.3V639.0H1247.9V643.3H1249.5V639.5H1251.1V649.2H1252.7V647.8H1254.3V653.0H1255.9V652.2H1257.5V655.3H1259.1V658.2H1260.7V661.8H1262.3V660.6H1263.9V660.8H1265.5V661.7H1267.1V664.1H1268.7V664.4H1270.3V669.6H1271.9V662.9H1273.5V665.3H1275.1V664.2H1276.7V668.0H1278.3V671.2H1279.9V666.8H1281.5V664.9H1283.1V662.0H1284.7V662.7H1286.3V656.7H1287.9V660.1H1289.5V659.2H1291.1V655.5H1292.7V655.1H1294.3V657.3H1295.9V656.6H1297.5V655.8H1299.1V651.9H1300.7V647.8H1302.3V652.7H1303.9V652.5H1305.5V652.8H1307.1V653.5H1308.7V650.2H1310.3V654.2H1311.9V655.5H1313.5V654.8H1315.1V653.4H1316.7V656.3H1318.3V651.9H1319.9V658.2H1321.5V657.9H1323.1V657.4H1324.7V657.4H1326.3V660.7H1327.9V658.8H1329.5V656.4" stroke-width="1.8"/>
<path d="M257.5 672.7H259.1V669.1H260.7V667.2H262.3V670.7H263.9V663.8H265.5V664.7H267.1V663.4H268.7V666.6H270.3V667.9H271.9V660.7H273.5V647.9H275.1V642.2H276.7V631.5H278.3V623.2H279.9V613.8H281.5V599.7H283.1V590.5H284.7V603.7H286.3V607.3H287.9V615.5H289.5V636.2H291.1V660.0H292.7V672.9H294.3V693.3H295.9V701.1H297.5V703.1H299.1V700.9H300.7V703.9H302.3V699.3H303.9V705.1H305.5V706.6H307.1V711.6H308.7V721.7H310.3V747.8H311.9V745.2H313.5V759.7H315.1V771.3H316.7V786.7H318.3V792.3H319.9V800.3H321.5V811.3H323.1V806.0H324.7V801.8H326.3V792.4H327.9V784.9H329.5V779.8H331.1V775.8H332.7V773.1H334.3V769.1H335.9V764.1H337.5V756.4H339.1V753.3H340.7V748.6H342.3V743.4H343.9V743.2H345.5V737.8H347.1V738.7H348.7V738.0H350.3V732.8H351.9V729.4H353.5V725.6H355.1V721.0H356.7V724.9H358.3V714.5H359.9V712.7H361.5V711.9H363.1V707.4H364.7V708.4H366.3V708.6H367.9V706.0H369.5V708.8H371.1V708.6H372.7V704.9H374.3V707.0H375.9V705.4H377.5V704.6H379.1V706.1H380.7V702.8H382.3V698.1H383.9V692.3H385.5V697.9H387.1V695.1H388.7V696.1H390.3V689.2H391.9V691.4H393.5V688.6H395.1V686.1H396.7V680.2H398.3V678.1H399.9V675.5H401.5V671.6H403.1V669.7H404.7V662.7H406.3V663.0H407.9V660.7H409.5V658.4H411.1V659.1H412.7V659.1H414.3V656.2H415.9V656.0H417.5V658.6H419.1V657.3H420.7V655.5H422.3V657.5H423.9V655.8H425.5V656.9H427.1V654.3H428.7V663.9H430.3V662.1H431.9V663.7H433.5V664.5H435.1V666.7H436.7V668.4H438.3V668.3H439.9V669.4H441.5V671.0H443.1V673.4H444.7V677.9H446.3V682.8H447.9V685.5H449.5V684.9H451.1V688.7H452.7V687.6H454.3V688.5H455.9V691.8H457.5V693.2H459.1V693.8H460.7V695.8H462.3V696.8H463.9V690.1H465.5V692.4H467.1V686.7H468.7V683.1H470.3V684.4H471.9V683.1H473.5V681.2H475.1V680.9H476.7V680.5H478.3V679.7H479.9V678.5H481.5V672.1H483.1V674.2H484.7V674.9H486.3V666.5H487.9V665.6H489.5V669.1H491.1V664.2H492.7V662.2H494.3V660.2H495.9V659.3H497.5V661.1H499.1V659.0H500.7V661.7H502.3V657.7H503.9V660.2H505.5V666.8H507.1V659.8H508.7V660.7H510.3V658.5H511.9V660.6H513.5V663.8H515.1V660.6H516.7V658.7H518.3V662.3H519.9V659.9H521.5V657.5H523.1V661.1H524.7V655.8H526.3V658.9H527.9V664.0H529.5V666.2H531.1V662.0H532.7V663.2H534.3V665.5H535.9V660.9H537.5V657.1H539.1V661.9H540.7V656.2H542.3V659.3H543.9V661.4H545.5V660.9H547.1V659.8H548.7V662.5H550.3V662.9H551.9V660.7H553.5V659.2H555.1V659.1H556.7V659.7H558.3V658.8H559.9V660.7H561.5V664.0H563.1V666.5H564.7V668.5H566.3V668.1H567.9V663.7H569.5V662.2H571.1V660.3H572.7V660.4H574.3V659.7H575.9V658.9H577.5V658.9H579.1V654.4H580.7V655.5H582.3V651.8H583.9V646.2H585.5V641.9H587.1V642.4H588.7V639.0H590.3V640.2H591.9V640.9H593.5V638.1H595.1V636.9H596.7V638.4H598.3V638.2H599.9V635.9H601.5V635.2H603.1V633.7H604.7V634.9H606.3V629.7H607.9V622.9H609.5V617.9H611.1V623.0H612.7V621.6H614.3V626.3H615.9V626.0H617.5V624.7H619.1V623.3H620.7V626.1H622.3V621.3H623.9V624.5H625.5V628.4H627.1V625.7H628.7V622.4H630.3V627.0H631.9V630.7H633.5V626.4H635.1V626.0H636.7V629.9H638.3V632.6H639.9V634.5H641.5V636.3H643.1V636.8H644.7V637.7H646.3V634.2H647.9V637.5H649.5V635.3H651.1V637.1H652.7V635.7H654.3V638.7H655.9V637.4H657.5V637.0H659.1V635.4H660.7V639.9H662.3V637.7H663.9V637.1H665.5V634.4H667.1V631.8H668.7V630.4H670.3V626.2H671.9V626.8H673.5V627.1H675.1V622.7H676.7V623.3H678.3V620.4H679.9V618.2H681.5V614.1H683.1V612.2H684.7V614.8H686.3V607.8H687.9V609.5H689.5V603.9H691.1V606.4H692.7V605.3H694.3V604.1H695.9V605.2H697.5V606.3H699.1V606.9H700.7V608.8H702.3V607.0H703.9V603.9H705.5V610.4H707.1V607.3H708.7V605.3H710.3V607.8H711.9V611.0H713.5V612.2H715.1V614.5H716.7V618.9H718.3V618.0H719.9V619.9H721.5V623.1H723.1V623.3H724.7V624.2H726.3V627.0H727.9V628.3H729.5V633.5H731.1V636.9H732.7V632.3H734.3V635.4H735.9V637.3H737.5V636.8H739.1V643.5H740.7V638.7H742.3V640.5H743.9V645.3H745.5V648.3H747.1V644.1H748.7V644.1H750.3V651.2H751.9V648.5H753.5V653.5H755.1V651.0H756.7V650.9H758.3V657.5H759.9V657.1H761.5V657.8H763.1V656.2H764.7V656.7H766.3V656.4H767.9V656.2H769.5V661.6H771.1V661.3H772.7V667.1H774.3V664.9H775.9V662.9H777.5V659.2H779.1V657.2H780.7V659.6H782.3V657.5H783.9V662.2H785.5V660.7H787.1V656.5H788.7V656.5H790.3V652.8H791.9V655.5H793.5V658.8H795.1V660.3H796.7V660.2H798.3V657.6H799.9V656.0H801.5V653.2H803.1V652.3H804.7V648.2H806.3V649.3H807.9V650.4H809.5V649.2H811.1V645.5H812.7V647.3H814.3V648.0H815.9V643.1H817.5V641.1H819.1V640.6H820.7V637.2H822.3V633.6H823.9V633.4H825.5V629.5H827.1V629.1H828.7V624.0H830.3V622.3H831.9V626.9H833.5V621.6H835.1V622.1H836.7V625.0H838.3V625.4H839.9V622.0H841.5V627.8H843.1V628.3H844.7V625.9H846.3V624.3H847.9V626.0H849.5V626.4H851.1V627.1H852.7V629.3H854.3V632.9H855.9V636.4H857.5V635.2H859.1V636.9H860.7V639.5H862.3V642.4H863.9V647.1H865.5V647.6H867.1V645.7H868.7V647.1H870.3V653.7H871.9V651.0H873.5V653.5H875.1V651.6H876.7V657.5H878.3V653.7H879.9V657.6H881.5V657.2H883.1V655.9H884.7V657.1H886.3V654.4H887.9V654.0H889.5V653.2H891.1V658.3H892.7V656.8H894.3V654.5H895.9V654.3H897.5V649.1H899.1V649.4H900.7V647.5H902.3V647.6H903.9V639.8H905.5V641.2H907.1V641.1H908.7V640.5H910.3V641.6H911.9V640.2H913.5V643.0H915.1V639.8H916.7V640.2H918.3V633.7H919.9V628.7H921.5V637.1H923.1V635.5H924.7V639.9H926.3V633.7H927.9V634.5H929.5V636.8H931.1V633.8H932.7V636.2H934.3V631.9H935.9V635.1H937.5V632.5H939.1V634.1H940.7V635.6H942.3V632.7H943.9V636.7H945.5V637.2H947.1V635.5H948.7V636.9H950.3V638.2H951.9V638.6H953.5V642.6H955.1V640.4H956.7V642.5H958.3V642.8H959.9V639.5H961.5V638.7H963.1V640.3H964.7V642.6H966.3V638.7H967.9V640.8H969.5V642.0H971.1V646.1H972.7V646.0H974.3V643.6H975.9V646.7H977.5V653.1H979.1V654.7H980.7V661.3H982.3V656.2H983.9V654.3H985.5V648.8H987.1V642.5H988.7V639.6H990.3V637.5H991.9V652.1H993.5V652.8H995.1V655.5H996.7V657.6H998.3V661.8H999.9V668.3H1001.5V666.2H1003.1V665.8H1004.7V663.3H1006.3V660.2H1007.9V665.4H1009.5V664.8H1011.1V664.5H1012.7V664.5H1014.3V660.8H1015.9V660.0H1017.5V662.5H1019.1V658.9H1020.7V659.0H1022.3V659.5H1023.9V657.9H1025.5V656.7H1027.1V655.3H1028.7V656.4H1030.3V653.9H1031.9V651.8H1033.5V651.3H1035.1V649.9H1036.7V653.6H1038.3V656.2H1039.9V655.0H1041.5V653.2H1043.1V646.5H1044.7V640.2H1046.3V644.6H1047.9V642.8H1049.5V640.4H1051.1V639.5H1052.7V635.6H1054.3V636.6H1055.9V632.2H1057.5V631.6H1059.1V634.6H1060.7V633.2H1062.3V634.0H1063.9V631.8H1065.5V629.2H1067.1V631.3H1068.7V636.9H1070.3V638.4H1071.9V642.2H1073.5V642.8H1075.1V637.5H1076.7V637.3H1078.3V635.3H1079.9V630.9H1081.5V642.5H1083.1V651.4H1084.7V659.4H1086.3V662.1H1087.9V661.3H1089.5V656.3H1091.1V659.6H1092.7V656.9H1094.3V656.8H1095.9V658.0H1097.5V653.5H1099.1V656.0H1100.7V655.1H1102.3V658.9H1103.9V658.8H1105.5V658.7H1107.1V656.5H1108.7V654.9H1110.3V656.8H1111.9V658.7H1113.5V654.6H1115.1V653.1H1116.7V648.5H1118.3V646.5H1119.9V642.4H1121.5V633.5H1123.1V639.1H1124.7V641.3H1126.3V641.5H1127.9V645.5H1129.5V645.5H1131.1V646.9H1132.7V645.8H1134.3V637.5H1135.9V637.8H1137.5V638.0H1139.1V634.7H1140.7V637.0H1142.3V635.2H1143.9V636.5H1145.5V637.0H1147.1V640.6H1148.7V642.6H1150.3V642.3H1151.9V640.4H1153.5V642.7H1155.1V643.4H1156.7V641.3H1158.3V645.3H1159.9V641.6H1161.5V643.1H1163.1V627.4H1164.7V642.5H1166.3V644.8H1167.9V646.1H1169.5V650.4H1171.1V649.5H1172.7V652.5H1174.3V647.9H1175.9V654.0H1177.5V652.5H1179.1V655.9H1180.7V655.1H1182.3V656.0H1183.9V654.4H1185.5V653.4H1187.1V656.8H1188.7V654.7H1190.3V663.2H1191.9V657.9H1193.5V662.7H1195.1V662.5H1196.7V663.7H1198.3V660.3H1199.9V659.4H1201.5V661.6H1203.1V654.7H1204.7V655.8H1206.3V656.9H1207.9V656.5H1209.5V653.7H1211.1V649.3H1212.7V655.1H1214.3V655.2H1215.9V656.5H1217.5V658.8H1219.1V661.6H1220.7V662.2H1222.3V663.9H1223.9V662.6H1225.5V663.5H1227.1V661.0H1228.7V664.4H1230.3V667.9H1231.9V668.1H1233.5V666.9H1235.1V663.1H1236.7V660.2H1238.3V665.6H1239.9V661.7H1241.5V667.2H1243.1V657.2H1244.7V658.9H1246.3V660.5H1247.9V659.2H1249.5V661.2H1251.1V664.0H1252.7V661.9H1254.3V660.6H1255.9V658.7H1257.5V656.8H1259.1V658.6H1260.7V660.0H1262.3V663.0H1263.9V658.7H1265.5V660.4H1267.1V665.0H1268.7V667.9H1270.3V667.6H1271.9V666.1H1273.5V667.1H1275.1V665.8H1276.7V666.5H1278.3V670.4H1279.9V667.5H1281.5V668.3H1283.1V667.4H1284.7V665.9H1286.3V665.7H1287.9V666.5H1289.5V663.6H1291.1V668.2H1292.7V665.5H1294.3V660.8H1295.9V665.4H1297.5V659.9H1299.1V662.8H1300.7V661.3H1302.3V655.5H1303.9V661.7H1305.5V658.2H1307.1V651.3H1308.7V652.2H1310.3V650.6H1311.9V648.3H1313.5V647.9H1315.1V650.3H1316.7V646.9H1318.3V650.8H1319.9V647.2H1321.5V648.0H1323.1V648.6H1324.7V644.0H1326.3V641.5H1327.9V643.8H1329.5V638.2" stroke-width="1.8"/>
<path d="M257.5 697.9H259.1V697.6H260.7V692.5H262.3V693.3H263.9V692.5H265.5V691.0H267.1V689.5H268.7V689.5H270.3V689.2H271.9V685.2H273.5V668.9H275.1V661.5H276.7V650.1H278.3V642.5H279.9V634.8H281.5V627.7H283.1V617.1H284.7V626.1H286.3V623.4H287.9V621.0H289.5V652.7H291.1V682.3H292.7V708.6H294.3V717.8H295.9V715.1H297.5V710.7H299.1V711.6H300.7V707.2H302.3V706.0H303.9V704.8H305.5V705.7H307.1V711.8H308.7V717.8H310.3V725.8H311.9V734.4H313.5V742.0H315.1V752.9H316.7V766.4H318.3V780.6H319.9V794.8H321.5V804.0H323.1V813.0H324.7V808.5H326.3V803.0H327.9V799.3H329.5V793.0H331.1V789.6H332.7V791.0H334.3V783.6H335.9V777.2H337.5V775.5H339.1V771.7H340.7V771.1H342.3V761.2H343.9V758.2H345.5V758.2H347.1V758.7H348.7V753.5H350.3V749.7H351.9V746.5H353.5V745.1H355.1V742.2H356.7V738.3H358.3V741.8H359.9V742.2H361.5V737.9H363.1V733.5H364.7V732.0H366.3V731.0H367.9V731.2H369.5V730.2H371.1V730.8H372.7V728.4H374.3V730.3H375.9V730.1H377.5V733.5H379.1V736.7H380.7V733.3H382.3V730.3H383.9V730.9H385.5V731.8H387.1V723.8H388.7V722.6H390.3V720.8H391.9V716.1H393.5V718.7H395.1V709.6H396.7V707.2H398.3V704.3H399.9V701.0H401.5V698.2H403.1V698.6H404.7V698.8H406.3V697.9H407.9V692.3H409.5V691.3H411.1V687.0H412.7V687.5H414.3V683.1H415.9V686.6H417.5V679.7H419.1V679.8H420.7V676.3H422.3V680.4H423.9V679.5H425.5V683.8H427.1V682.8H428.7V684.0H430.3V682.3H431.9V685.5H433.5V686.2H435.1V691.0H436.7V695.3H438.3V689.8H439.9V695.6H441.5V693.5H443.1V698.5H444.7V696.8H446.3V696.2H447.9V700.4H449.5V699.4H451.1V696.5H452.7V702.9H454.3V697.4H455.9V697.3H457.5V700.9H459.1V701.5H460.7V701.8H462.3V699.2H463.9V696.0H465.5V691.9H467.1V691.9H468.7V689.7H470.3V689.2H471.9V692.4H473.5V691.4H475.1V692.9H476.7V690.3H478.3V687.9H479.9V688.6H481.5V689.5H483.1V690.4H484.7V685.5H486.3V676.3H487.9V674.5H489.5V674.3H491.1V672.8H492.7V673.8H494.3V675.3H495.9V676.3H497.5V672.2H499.1V674.9H500.7V672.3H502.3V671.3H503.9V669.3H505.5V669.9H507.1V664.6H508.7V656.8H510.3V659.5H511.9V658.9H513.5V659.0H515.1V659.1H516.7V663.0H518.3V666.0H519.9V663.1H521.5V664.2H523.1V666.7H524.7V666.7H526.3V664.0H527.9V663.5H529.5V664.3H531.1V663.5H532.7V662.8H534.3V662.1H535.9V665.4H537.5V667.0H539.1V665.6H540.7V664.9H542.3V668.0H543.9V665.3H545.5V660.8H547.1V662.3H548.7V668.3H550.3V665.6H551.9V667.2H553.5V669.1H555.1V667.0H556.7V668.4H558.3V667.0H559.9V667.5H561.5V663.3H563.1V663.6H564.7V668.2H566.3V670.9H567.9V667.6H569.5V668.8H571.1V669.9H572.7V671.6H574.3V669.2H575.9V674.0H577.5V668.8H579.1V671.9H580.7V668.2H582.3V670.8H583.9V668.7H585.5V668.7H587.1V667.9H588.7V667.0H590.3V668.4H591.9V669.2H593.5V668.6H595.1V669.8H596.7V666.3H598.3V668.4H599.9V664.3H601.5V664.6H603.1V664.1H604.7V664.5H606.3V666.8H607.9V664.4H609.5V663.8H611.1V664.9H612.7V667.4H614.3V665.7H615.9V666.8H617.5V660.3H619.1V659.7H620.7V658.2H622.3V654.7H623.9V655.1H625.5V654.5H627.1V651.8H628.7V649.4H630.3V654.4H631.9V656.1H633.5V655.3H635.1V651.3H636.7V651.6H638.3V651.8H639.9V650.9H641.5V649.4H643.1V651.9H644.7V653.3H646.3V654.4H647.9V654.9H649.5V655.7H651.1V649.0H652.7V652.8H654.3V652.8H655.9V656.0H657.5V646.3H659.1V646.4H660.7V646.1H662.3V639.9H663.9V637.2H665.5V635.2H667.1V639.6H668.7V642.0H670.3V643.6H671.9V638.0H673.5V637.0H675.1V636.3H676.7V639.1H678.3V641.3H679.9V636.4H681.5V636.3H683.1V634.2H684.7V631.2H686.3V625.1H687.9V625.5H689.5V618.5H691.1V619.7H692.7V615.8H694.3V611.0H695.9V610.8H697.5V606.7H699.1V602.6H700.7V600.9H702.3V598.3H703.9V603.7H705.5V600.8H707.1V604.0H708.7V605.4H710.3V600.9H711.9V608.7H713.5V609.6H715.1V607.0H716.7V608.2H718.3V612.9H719.9V613.5H721.5V617.7H723.1V620.6H724.7V622.6H726.3V624.0H727.9V627.4H729.5V636.7H731.1V638.4H732.7V639.9H734.3V642.5H735.9V641.4H737.5V645.0H739.1V642.7H740.7V645.3H742.3V647.3H743.9V651.3H745.5V648.5H747.1V652.6H748.7V651.0H750.3V652.5H751.9V650.5H753.5V652.0H755.1V650.5H756.7V649.5H758.3V655.5H759.9V656.1H761.5V658.9H763.1V656.3H764.7V660.8H766.3V663.5H767.9V662.0H769.5V663.5H771.1V668.1H772.7V664.0H774.3V665.6H775.9V664.8H777.5V664.3H779.1V660.6H780.7V659.5H782.3V653.8H783.9V660.4H785.5V661.3H787.1V656.4H788.7V656.5H790.3V655.4H791.9V660.4H793.5V655.8H795.1V655.1H796.7V656.3H798.3V653.3H799.9V650.9H801.5V650.9H803.1V654.1H804.7V654.8H806.3V654.9H807.9V650.2H809.5V652.1H811.1V657.0H812.7V656.9H814.3V657.8H815.9V656.6H817.5V652.6H819.1V656.7H820.7V655.5H822.3V658.3H823.9V657.0H825.5V655.1H827.1V651.7H828.7V653.8H830.3V653.8H831.9V653.8H833.5V657.8H835.1V656.0H836.7V657.5H838.3V652.3H839.9V653.1H841.5V654.8H843.1V651.7H844.7V657.9H846.3V656.3H847.9V655.0H849.5V651.2H851.1V653.5H852.7V652.6H854.3V652.8H855.9V651.1H857.5V653.2H859.1V650.0H860.7V650.0H862.3V652.3H863.9V655.5H865.5V653.6H867.1V653.4H868.7V655.9H870.3V654.6H871.9V653.8H873.5V654.1H875.1V654.6H876.7V659.9H878.3V660.8H879.9V654.4H881.5V654.7H883.1V656.0H884.7V660.0H886.3V658.5H887.9V653.7H889.5V653.3H891.1V649.7H892.7V650.5H894.3V647.0H895.9V647.2H897.5V653.3H899.1V647.8H900.7V648.9H902.3V649.1H903.9V650.8H905.5V647.8H907.1V653.0H908.7V647.9H910.3V645.7H911.9V647.2H913.5V646.5H915.1V652.4H916.7V652.9H918.3V649.7H919.9V647.3H921.5V647.1H923.1V646.2H924.7V648.2H926.3V647.5H927.9V652.4H929.5V649.9H931.1V649.7H932.7V651.3H934.3V650.7H935.9V650.2H937.5V655.1H939.1V654.4H940.7V656.4H942.3V659.1H943.9V661.6H945.5V665.3H947.1V660.0H948.7V660.7H950.3V660.2H951.9V659.8H953.5V663.6H955.1V662.7H956.7V665.1H958.3V665.0H959.9V662.5H961.5V661.9H963.1V666.4H964.7V664.7H966.3V667.0H967.9V667.6H969.5V668.1H971.1V670.0H972.7V672.4H974.3V674.8H975.9V672.0H977.5V668.1H979.1V676.1H980.7V674.7H982.3V666.3H983.9V675.8H985.5V671.6H987.1V675.7H988.7V680.8H990.3V676.3H991.9V676.6H993.5V675.2H995.1V675.3H996.7V677.1H998.3V679.0H999.9V675.5H1001.5V670.9H1003.1V671.2H1004.7V670.1H1006.3V666.8H1007.9V667.9H1009.5V664.7H1011.1V669.7H1012.7V666.6H1014.3V668.2H1015.9V662.1H1017.5V662.4H1019.1V664.0H1020.7V666.3H1022.3V663.3H1023.9V657.3H1025.5V657.0H1027.1V656.7H1028.7V655.6H1030.3V653.8H1031.9V658.7H1033.5V655.2H1035.1V657.9H1036.7V658.1H1038.3V663.0H1039.9V661.7H1041.5V660.7H1043.1V663.7H1044.7V661.3H1046.3V660.5H1047.9V661.8H1049.5V668.9H1051.1V668.4H1052.7V671.2H1054.3V672.9H1055.9V679.7H1057.5V678.8H1059.1V682.1H1060.7V679.3H1062.3V675.7H1063.9V673.1H1065.5V675.5H1067.1V672.1H1068.7V671.9H1070.3V669.9H1071.9V676.2H1073.5V673.8H1075.1V675.3H1076.7V676.3H1078.3V671.7H1079.9V671.1H1081.5V667.1H1083.1V664.5H1084.7V664.3H1086.3V663.4H1087.9V667.1H1089.5V668.2H1091.1V666.2H1092.7V666.7H1094.3V660.9H1095.9V657.5H1097.5V662.2H1099.1V668.0H1100.7V670.5H1102.3V667.5H1103.9V668.0H1105.5V670.9H1107.1V667.4H1108.7V670.3H1110.3V670.2H1111.9V669.6H1113.5V673.9H1115.1V673.0H1116.7V677.3H1118.3V675.3H1119.9V674.5H1121.5V678.7H1123.1V679.0H1124.7V681.4H1126.3V678.3H1127.9V677.6H1129.5V675.5H1131.1V677.7H1132.7V677.4H1134.3V681.7H1135.9V681.0H1137.5V683.7H1139.1V684.9H1140.7V684.8H1142.3V689.1H1143.9V689.5H1145.5V692.7H1147.1V690.5H1148.7V690.2H1150.3V688.9H1151.9V688.4H1153.5V692.9H1155.1V691.1H1156.7V687.7H1158.3V691.1H1159.9V692.2H1161.5V695.4H1163.1V693.7H1164.7V692.6H1166.3V694.0H1167.9V698.1H1169.5V698.8H1171.1V696.6H1172.7V697.3H1174.3V695.0H1175.9V696.2H1177.5V699.7H1179.1V696.3H1180.7V694.1H1182.3V695.7H1183.9V694.0H1185.5V690.2H1187.1V691.6H1188.7V688.6H1190.3V682.6H1191.9V687.7H1193.5V687.4H1195.1V689.3H1196.7V690.1H1198.3V688.8H1199.9V689.1H1201.5V688.6H1203.1V686.7H1204.7V684.5H1206.3V679.9H1207.9V678.2H1209.5V679.5H1211.1V676.6H1212.7V675.0H1214.3V670.2H1215.9V670.3H1217.5V673.2H1219.1V668.6H1220.7V671.2H1222.3V668.5H1223.9V672.2H1225.5V672.7H1227.1V677.7H1228.7V677.2H1230.3V682.6H1231.9V681.6H1233.5V684.9H1235.1V688.4H1236.7V691.7H1238.3V689.3H1239.9V688.7H1241.5V686.7H1243.1V688.3H1244.7V683.0H1246.3V684.1H1247.9V685.6H1249.5V685.8H1251.1V686.1H1252.7V689.2H1254.3V690.2H1255.9V693.2H1257.5V691.4H1259.1V690.3H1260.7V693.3H1262.3V695.8H1263.9V696.2H1265.5V701.0H1267.1V697.6H1268.7V698.4H1270.3V697.4H1271.9V699.0H1273.5V701.7H1275.1V700.6H1276.7V703.5H1278.3V701.3H1279.9V696.4H1281.5V699.1H1283.1V701.5H1284.7V700.7H1286.3V700.5H1287.9V701.4H1289.5V699.0H1291.1V694.8H1292.7V693.0H1294.3V692.7H1295.9V695.9H1297.5V695.3H1299.1V700.7H1300.7V698.8H1302.3V699.5H1303.9V698.5H1305.5V696.2H1307.1V699.7H1308.7V698.2H1310.3V698.8H1311.9V695.0H1313.5V695.1H1315.1V695.1H1316.7V691.6H1318.3V691.3H1319.9V691.7H1321.5V688.9H1323.1V688.4H1324.7V688.9H1326.3V684.0H1327.9V686.8H1329.5V686.7" stroke-width="1.8"/>
</g>
<polygon fill="#000" points="232.4,837.0 232.4,150.0 236.5,150.0 236.5,114.0 239.0,114.0 239.0,109.0 240.5,109.0 240.5,101.0 243.0,101.0 243.0,94.0 245.0,94.0 245.0,89.0 247.3,89.0 247.3,61.0 248.7,61.0 248.7,74.0 251.0,74.0 251.5,66.0 253.2,66.0 253.2,75.0 255.5,75.0 257.6,100.0 257.6,837.0"/>
<rect x="237" y="836" width="20.6" height="29.5" fill="#000"/>
<line x1="356.9" y1="90.2" x2="350.2" y2="118.4" stroke="#000" stroke-width="3.4"/><polygon fill="#000" points="345.6,141.8 338.3,116.0 362.2,120.8"/>
<line x1="520.2" y1="340.4" x2="500.3" y2="370.9" stroke="#000" stroke-width="3.4"/><polygon fill="#000" points="487.9,390.8 489.4,365.2 511.2,376.5"/>
<line x1="363.3" y1="583.0" x2="333.3" y2="587.0" stroke="#000" stroke-width="3.4"/><polygon fill="#000" points="310.3,589.6 330.8,575.8 335.8,598.3"/>
<g font-family="Liberation Sans" font-size="39.5" fill="#000" stroke="#000" stroke-width="0.4"><text x="4.7" y="155.0" text-anchor="start">1</text><text x="25.2" y="155.0" text-anchor="start">.25</text><text x="102.2" y="155.0" text-anchor="start">V/div</text><text x="5.0" y="307.0" text-anchor="start">5.00</text><text x="103.9" y="307.0" text-anchor="start">V/div</text><text x="5.4" y="572.4" text-anchor="start">5.00</text><text x="103.9" y="572.4" text-anchor="start">V/div</text><text x="374.0" y="38.3" text-anchor="middle">N 40</text><text x="373.0" y="82.2" text-anchor="middle">48.0 ms</text><text x="530.5" y="296.0" text-anchor="middle">N2</text><text x="531.5" y="339.7" text-anchor="middle">109.2 ms</text><text x="441.8" y="565.0" text-anchor="middle">N20</text><text x="440.8" y="608.6" text-anchor="middle">23.4 ms</text><text x="963.5" y="88.5" text-anchor="start">NEP&#160; radial nerve C3-Fz</text><text x="963.5" y="336.8" text-anchor="start">PREP radial nerve Cz-Au1</text><text x="963.5" y="597.5" text-anchor="start">SEP median nerve C3-Fz</text><text x="235.8" y="922.5" text-anchor="middle">0</text><text x="455.4" y="922.5" text-anchor="middle">100</text><text x="675.8" y="922.5" text-anchor="middle">200</text><text x="897.0" y="922.5" text-anchor="middle">300</text><text x="1118.0" y="922.5" text-anchor="middle">400</text><text x="1304.0" y="922.5" text-anchor="start">500 ms</text></g>
<g fill="#000" stroke="none"><rect x="82.40" y="136.80" width="3.6" height="21.70"/><rect x="82.60" y="158.00" width="2.4" height="3"/><circle cx="83.60" cy="160.80" r="2.05"/><rect x="94.15" y="136.80" width="3.5" height="17.2"/></g><g fill="none" stroke="#000" stroke-width="2.6"><path d="M85.40 149.50 Q86.40 155.60 90.20 155.40 Q93.90 155.20 95.60 151.50"/><path stroke-width="2.1" d="M95.50 152.00 Q96.10 155.90 98.10 155.40 Q99.80 154.70 100.80 150.80"/></g>
<g fill="#000" stroke="none"><rect x="85.30" y="288.80" width="3.6" height="21.70"/><rect x="85.50" y="310.00" width="2.4" height="3"/><circle cx="86.50" cy="312.80" r="2.05"/><rect x="97.55" y="288.80" width="3.5" height="17.2"/></g><g fill="none" stroke="#000" stroke-width="2.6"><path d="M88.30 301.50 Q89.30 307.60 93.10 307.40 Q97.30 307.20 99.00 303.50"/><path stroke-width="2.1" d="M98.90 304.00 Q99.50 307.90 101.50 307.40 Q103.20 306.70 104.20 302.80"/></g>
<g fill="#000" stroke="none"><rect x="85.30" y="554.20" width="3.6" height="21.70"/><rect x="85.50" y="575.40" width="2.4" height="3"/><circle cx="86.50" cy="578.20" r="2.05"/><rect x="97.55" y="554.20" width="3.5" height="17.2"/></g><g fill="none" stroke="#000" stroke-width="2.6"><path d="M88.30 566.90 Q89.30 573.00 93.10 572.80 Q97.30 572.60 99.00 568.90"/><path stroke-width="2.1" d="M98.90 569.40 Q99.50 573.30 101.50 572.80 Q103.20 572.10 104.20 568.20"/></g>
<rect x="6.70" y="151.55" width="7.80" height="5.2" fill="#fff"/>
<rect x="18.15" y="151.55" width="7.60" height="5.2" fill="#fff"/>
<rect x="452.26" y="336.25" width="7.80" height="5.2" fill="#fff"/>
<rect x="463.71" y="336.25" width="7.60" height="5.2" fill="#fff"/>
<rect x="1410.42" y="333.35" width="7.80" height="5.2" fill="#fff"/>
<rect x="1421.87" y="333.35" width="7.60" height="5.2" fill="#fff"/>
<rect x="424.45" y="919.05" width="7.80" height="5.2" fill="#fff"/>
<rect x="435.90" y="919.05" width="7.60" height="5.2" fill="#fff"/>
</svg>
</body></html>
